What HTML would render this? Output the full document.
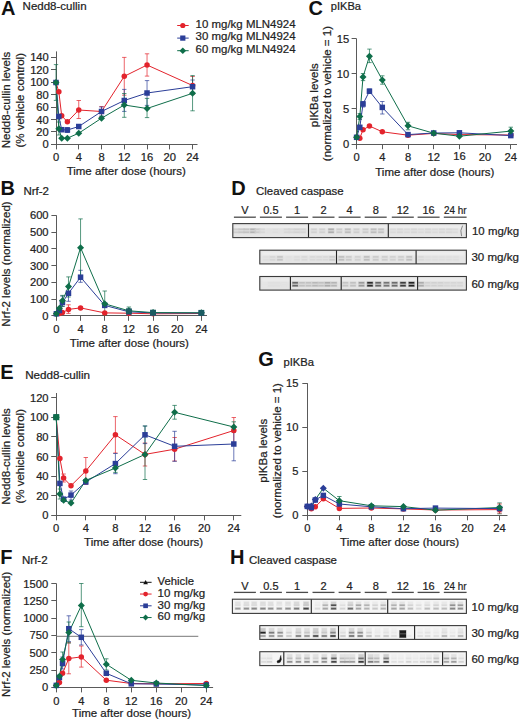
<!DOCTYPE html>
<html><head><meta charset="utf-8"><title>Figure</title>
<style>
html,body{margin:0;padding:0;background:#fff;}
body{width:520px;height:721px;overflow:hidden;}
svg{display:block;font-family:"Liberation Sans",sans-serif;}
text{stroke:#222;stroke-width:0.22px;}
text[font-weight]{stroke:none;}
</style></head><body>
<svg width="520" height="721" viewBox="0 0 520 721" fill="#222222">
<defs><filter id="bl" x="-20%" y="-50%" width="140%" height="200%"><feGaussianBlur stdDeviation="0.8"/></filter><filter id="bl2" x="-5%" y="-100%" width="110%" height="300%"><feGaussianBlur stdDeviation="1"/></filter></defs>
<rect x="0" y="0" width="520" height="721" fill="#fff"/>
<text x="1" y="14.6" font-size="20" font-weight="bold" fill="#111">A</text>
<text x="22.6" y="10" font-size="11" textLength="64" lengthAdjust="spacingAndGlyphs">Nedd8-cullin</text>
<line x1="56.5" y1="51.4" x2="56.5" y2="144.9" stroke="#5a5a5a" stroke-width="1"/>
<line x1="51" y1="144.5" x2="56.5" y2="144.5" stroke="#5a5a5a" stroke-width="1"/>
<text x="48.8" y="148.41" font-size="11.2" text-anchor="end">0</text>
<line x1="51" y1="131.5" x2="56.5" y2="131.5" stroke="#5a5a5a" stroke-width="1"/>
<text x="48.8" y="135.97" font-size="11.2" text-anchor="end">20</text>
<line x1="51" y1="119.5" x2="56.5" y2="119.5" stroke="#5a5a5a" stroke-width="1"/>
<text x="48.8" y="123.53" font-size="11.2" text-anchor="end">40</text>
<line x1="51" y1="107.5" x2="56.5" y2="107.5" stroke="#5a5a5a" stroke-width="1"/>
<text x="48.8" y="111.09" font-size="11.2" text-anchor="end">60</text>
<line x1="51" y1="94.5" x2="56.5" y2="94.5" stroke="#5a5a5a" stroke-width="1"/>
<text x="48.8" y="98.65" font-size="11.2" text-anchor="end">80</text>
<line x1="51" y1="82.5" x2="56.5" y2="82.5" stroke="#5a5a5a" stroke-width="1"/>
<text x="48.8" y="86.21" font-size="11.2" text-anchor="end">100</text>
<line x1="51" y1="69.5" x2="56.5" y2="69.5" stroke="#5a5a5a" stroke-width="1"/>
<text x="48.8" y="73.77" font-size="11.2" text-anchor="end">120</text>
<line x1="51" y1="57.5" x2="56.5" y2="57.5" stroke="#5a5a5a" stroke-width="1"/>
<text x="48.8" y="61.33" font-size="11.2" text-anchor="end">140</text>
<line x1="56" y1="144.5" x2="197.5" y2="144.5" stroke="#5a5a5a" stroke-width="1"/>
<line x1="56.5" y1="144.5" x2="56.5" y2="149.4" stroke="#5a5a5a" stroke-width="1"/>
<text x="56" y="161.01" font-size="11.2" text-anchor="middle">0</text>
<line x1="78.5" y1="144.5" x2="78.5" y2="149.4" stroke="#5a5a5a" stroke-width="1"/>
<text x="78.76" y="161.01" font-size="11.2" text-anchor="middle">4</text>
<line x1="101.5" y1="144.5" x2="101.5" y2="149.4" stroke="#5a5a5a" stroke-width="1"/>
<text x="101.52" y="161.01" font-size="11.2" text-anchor="middle">8</text>
<line x1="124.5" y1="144.5" x2="124.5" y2="149.4" stroke="#5a5a5a" stroke-width="1"/>
<text x="124.28" y="161.01" font-size="11.2" text-anchor="middle">12</text>
<line x1="147.5" y1="144.5" x2="147.5" y2="149.4" stroke="#5a5a5a" stroke-width="1"/>
<text x="147.04" y="161.01" font-size="11.2" text-anchor="middle">16</text>
<line x1="169.5" y1="144.5" x2="169.5" y2="149.4" stroke="#5a5a5a" stroke-width="1"/>
<text x="169.8" y="161.01" font-size="11.2" text-anchor="middle">20</text>
<line x1="192.5" y1="144.5" x2="192.5" y2="149.4" stroke="#5a5a5a" stroke-width="1"/>
<text x="192.56" y="161.01" font-size="11.2" text-anchor="middle">24</text>
<text x="126.2" y="175.16" font-size="11.5" text-anchor="middle">Time after dose (hours)</text>
<text x="10.1" y="100" font-size="11.5" text-anchor="middle" transform="rotate(-90 10.1 100)">Nedd8-cullin levels</text>
<text x="23.7" y="100.3" font-size="11.5" text-anchor="middle" transform="rotate(-90 23.7 100.3)">(% vehicle control)</text>
<line x1="177.2" y1="25.5" x2="188.7" y2="25.5" stroke="#e3232c" stroke-width="1"/>
<circle cx="182.8" cy="25.5" r="2.61" fill="#e3232c"/>
<text x="195.6" y="27.8" font-size="11.5" textLength="100" lengthAdjust="spacingAndGlyphs">10 mg/kg MLN4924</text>
<line x1="177.2" y1="38.1" x2="188.7" y2="38.1" stroke="#2b3e98" stroke-width="1"/>
<rect x="180.19" y="35.49" width="5.22" height="5.22" fill="#2b3e98"/>
<text x="195.6" y="40.4" font-size="11.5" textLength="100" lengthAdjust="spacingAndGlyphs">30 mg/kg MLN4924</text>
<line x1="177.2" y1="50.7" x2="188.7" y2="50.7" stroke="#0f6e4a" stroke-width="1"/>
<path d="M182.8 47.38L186.12 50.7L182.8 54.03L179.48 50.7Z" fill="#0f6e4a"/>
<text x="195.6" y="53" font-size="11.5" textLength="100" lengthAdjust="spacingAndGlyphs">60 mg/kg MLN4924</text>
<path d="M78.76 100.5V118.5M76.56 100.5H80.96M76.56 118.5H80.96" fill="none" stroke="#e3232c" stroke-width="1" stroke-opacity="0.7"/>
<path d="M124.28 57.4V95.2M122.08 57.4H126.48M122.08 95.2H126.48" fill="none" stroke="#e3232c" stroke-width="1" stroke-opacity="0.7"/>
<path d="M147.04 53.8V76.1M144.84 53.8H149.24M144.84 76.1H149.24" fill="none" stroke="#e3232c" stroke-width="1" stroke-opacity="0.7"/>
<path d="M192.56 76.5V94.5M190.36 76.5H194.76M190.36 94.5H194.76" fill="none" stroke="#e3232c" stroke-width="1" stroke-opacity="0.7"/>
<path d="M101.52 106.5V116.5M99.32 106.5H103.72M99.32 116.5H103.72" fill="none" stroke="#e3232c" stroke-width="1" stroke-opacity="0.7"/>
<path d="M124.28 89.4V111.4M122.08 89.4H126.48M122.08 111.4H126.48" fill="none" stroke="#2b3e98" stroke-width="1" stroke-opacity="0.7"/>
<path d="M147.04 80.6V105.4M144.84 80.6H149.24M144.84 105.4H149.24" fill="none" stroke="#2b3e98" stroke-width="1" stroke-opacity="0.7"/>
<path d="M192.56 80V93.4M190.36 80H194.76M190.36 93.4H194.76" fill="none" stroke="#2b3e98" stroke-width="1" stroke-opacity="0.7"/>
<path d="M101.52 107V116M99.32 107H103.72M99.32 116H103.72" fill="none" stroke="#2b3e98" stroke-width="1" stroke-opacity="0.7"/>
<path d="M67.38 127.5V132.5M65.18 127.5H69.58M65.18 132.5H69.58" fill="none" stroke="#2b3e98" stroke-width="1" stroke-opacity="0.7"/>
<path d="M56 64.6V100.4M53.8 64.6H58.2M53.8 100.4H58.2" fill="none" stroke="#0f6e4a" stroke-width="1" stroke-opacity="0.7"/>
<path d="M124.28 93.5V117.3M122.08 93.5H126.48M122.08 117.3H126.48" fill="none" stroke="#0f6e4a" stroke-width="1" stroke-opacity="0.7"/>
<path d="M147.04 98.4V117.6M144.84 98.4H149.24M144.84 117.6H149.24" fill="none" stroke="#0f6e4a" stroke-width="1" stroke-opacity="0.7"/>
<path d="M192.56 75.6V110.8M190.36 75.6H194.76M190.36 110.8H194.76" fill="none" stroke="#0f6e4a" stroke-width="1" stroke-opacity="0.7"/>
<path d="M58.84 122V135M56.64 122H61.05M56.64 135H61.05" fill="none" stroke="#0f6e4a" stroke-width="1" stroke-opacity="0.7"/>
<polyline points="56,82.5 58.84,91.8 61.69,115.8 67.38,121.8 78.76,110 101.52,111.5 124.28,76.3 147.04,65 192.56,85.5" fill="none" stroke="#e3232c" stroke-width="1" stroke-linejoin="round"/>
<polyline points="56,82.5 58.84,116.5 61.69,129.7 67.38,130 78.76,126.5 101.52,111.5 124.28,100.5 147.04,93 192.56,86.7" fill="none" stroke="#2b3e98" stroke-width="1" stroke-linejoin="round"/>
<polyline points="56,82.5 58.84,128.8 61.69,138.2 67.38,138.2 78.76,133.2 101.52,118.2 124.28,105 147.04,108.5 192.56,93.3" fill="none" stroke="#0f6e4a" stroke-width="1" stroke-linejoin="round"/>
<circle cx="56" cy="82.5" r="2.75" fill="#e3232c"/>
<circle cx="58.84" cy="91.8" r="2.75" fill="#e3232c"/>
<circle cx="61.69" cy="115.8" r="2.75" fill="#e3232c"/>
<circle cx="67.38" cy="121.8" r="2.75" fill="#e3232c"/>
<circle cx="78.76" cy="110" r="2.75" fill="#e3232c"/>
<circle cx="101.52" cy="111.5" r="2.75" fill="#e3232c"/>
<circle cx="124.28" cy="76.3" r="2.75" fill="#e3232c"/>
<circle cx="147.04" cy="65" r="2.75" fill="#e3232c"/>
<circle cx="192.56" cy="85.5" r="2.75" fill="#e3232c"/>
<rect x="53.25" y="79.75" width="5.5" height="5.5" fill="#2b3e98"/>
<rect x="56.09" y="113.75" width="5.5" height="5.5" fill="#2b3e98"/>
<rect x="58.94" y="126.95" width="5.5" height="5.5" fill="#2b3e98"/>
<rect x="64.63" y="127.25" width="5.5" height="5.5" fill="#2b3e98"/>
<rect x="76.01" y="123.75" width="5.5" height="5.5" fill="#2b3e98"/>
<rect x="98.77" y="108.75" width="5.5" height="5.5" fill="#2b3e98"/>
<rect x="121.53" y="97.75" width="5.5" height="5.5" fill="#2b3e98"/>
<rect x="144.29" y="90.25" width="5.5" height="5.5" fill="#2b3e98"/>
<rect x="189.81" y="83.95" width="5.5" height="5.5" fill="#2b3e98"/>
<path d="M56 79L59.5 82.5L56 86L52.5 82.5Z" fill="#0f6e4a"/>
<path d="M58.84 125.3L62.34 128.8L58.84 132.3L55.34 128.8Z" fill="#0f6e4a"/>
<path d="M61.69 134.7L65.19 138.2L61.69 141.7L58.19 138.2Z" fill="#0f6e4a"/>
<path d="M67.38 134.7L70.88 138.2L67.38 141.7L63.88 138.2Z" fill="#0f6e4a"/>
<path d="M78.76 129.7L82.26 133.2L78.76 136.7L75.26 133.2Z" fill="#0f6e4a"/>
<path d="M101.52 114.7L105.02 118.2L101.52 121.7L98.02 118.2Z" fill="#0f6e4a"/>
<path d="M124.28 101.5L127.78 105L124.28 108.5L120.78 105Z" fill="#0f6e4a"/>
<path d="M147.04 105L150.54 108.5L147.04 112L143.54 108.5Z" fill="#0f6e4a"/>
<path d="M192.56 89.8L196.06 93.3L192.56 96.8L189.06 93.3Z" fill="#0f6e4a"/>
<text x="0.4" y="194.7" font-size="20" font-weight="bold" fill="#111">B</text>
<text x="23.4" y="194.6" font-size="11" textLength="25.6" lengthAdjust="spacingAndGlyphs">Nrf-2</text>
<line x1="56.5" y1="215.3" x2="56.5" y2="316.3" stroke="#5a5a5a" stroke-width="1"/>
<line x1="51.4" y1="315.5" x2="56.5" y2="315.5" stroke="#5a5a5a" stroke-width="1"/>
<text x="48.6" y="319.81" font-size="11.2" text-anchor="end">0</text>
<line x1="51.4" y1="299.5" x2="56.5" y2="299.5" stroke="#5a5a5a" stroke-width="1"/>
<text x="48.6" y="303.06" font-size="11.2" text-anchor="end">100</text>
<line x1="51.4" y1="282.5" x2="56.5" y2="282.5" stroke="#5a5a5a" stroke-width="1"/>
<text x="48.6" y="286.31" font-size="11.2" text-anchor="end">200</text>
<line x1="51.4" y1="265.5" x2="56.5" y2="265.5" stroke="#5a5a5a" stroke-width="1"/>
<text x="48.6" y="269.56" font-size="11.2" text-anchor="end">300</text>
<line x1="51.4" y1="248.5" x2="56.5" y2="248.5" stroke="#5a5a5a" stroke-width="1"/>
<text x="48.6" y="252.81" font-size="11.2" text-anchor="end">400</text>
<line x1="51.4" y1="232.5" x2="56.5" y2="232.5" stroke="#5a5a5a" stroke-width="1"/>
<text x="48.6" y="236.06" font-size="11.2" text-anchor="end">500</text>
<line x1="51.4" y1="215.5" x2="56.5" y2="215.5" stroke="#5a5a5a" stroke-width="1"/>
<text x="48.6" y="219.31" font-size="11.2" text-anchor="end">600</text>
<line x1="56" y1="315.5" x2="207" y2="315.5" stroke="#5a5a5a" stroke-width="1"/>
<line x1="56.5" y1="315.5" x2="56.5" y2="320.8" stroke="#5a5a5a" stroke-width="1"/>
<text x="56.4" y="333.01" font-size="11.2" text-anchor="middle">0</text>
<line x1="80.5" y1="315.5" x2="80.5" y2="320.8" stroke="#5a5a5a" stroke-width="1"/>
<text x="80.56" y="333.01" font-size="11.2" text-anchor="middle">4</text>
<line x1="104.5" y1="315.5" x2="104.5" y2="320.8" stroke="#5a5a5a" stroke-width="1"/>
<text x="104.72" y="333.01" font-size="11.2" text-anchor="middle">8</text>
<line x1="128.5" y1="315.5" x2="128.5" y2="320.8" stroke="#5a5a5a" stroke-width="1"/>
<text x="128.88" y="333.01" font-size="11.2" text-anchor="middle">12</text>
<line x1="153.5" y1="315.5" x2="153.5" y2="320.8" stroke="#5a5a5a" stroke-width="1"/>
<text x="153.04" y="333.01" font-size="11.2" text-anchor="middle">16</text>
<line x1="177.5" y1="315.5" x2="177.5" y2="320.8" stroke="#5a5a5a" stroke-width="1"/>
<text x="177.2" y="333.01" font-size="11.2" text-anchor="middle">20</text>
<line x1="201.5" y1="315.5" x2="201.5" y2="320.8" stroke="#5a5a5a" stroke-width="1"/>
<text x="201.36" y="333.01" font-size="11.2" text-anchor="middle">24</text>
<text x="129.4" y="346.81" font-size="11.5" text-anchor="middle">Time after dose (hours)</text>
<text x="10.1" y="264" font-size="11.5" text-anchor="middle" transform="rotate(-90 10.1 264)">Nrf-2 levels (normalized)</text>
<path d="M68.48 304.8V313.4M66.28 304.8H70.68M66.28 313.4H70.68" fill="none" stroke="#e3232c" stroke-width="1" stroke-opacity="0.7"/>
<path d="M80.56 270.3V282.3M78.36 270.3H82.76M78.36 282.3H82.76" fill="none" stroke="#2b3e98" stroke-width="1" stroke-opacity="0.7"/>
<path d="M68.48 287V301.3M66.28 287H70.68M66.28 301.3H70.68" fill="none" stroke="#2b3e98" stroke-width="1" stroke-opacity="0.7"/>
<path d="M62.44 296.1V306.5M60.24 296.1H64.64M60.24 306.5H64.64" fill="none" stroke="#2b3e98" stroke-width="1" stroke-opacity="0.7"/>
<path d="M80.56 218.9V276.5M78.36 218.9H82.76M78.36 276.5H82.76" fill="none" stroke="#0f6e4a" stroke-width="1" stroke-opacity="0.7"/>
<path d="M68.48 276.9V297M66.28 276.9H70.68M66.28 297H70.68" fill="none" stroke="#0f6e4a" stroke-width="1" stroke-opacity="0.7"/>
<path d="M62.44 295.4V306.2M60.24 295.4H64.64M60.24 306.2H64.64" fill="none" stroke="#0f6e4a" stroke-width="1" stroke-opacity="0.7"/>
<path d="M104.72 291V315.5M102.52 291H106.92M102.52 315.5H106.92" fill="none" stroke="#0f6e4a" stroke-width="1" stroke-opacity="0.7"/>
<path d="M128.88 307V314.5M126.68 307H131.08M126.68 314.5H131.08" fill="none" stroke="#0f6e4a" stroke-width="1" stroke-opacity="0.7"/>
<polyline points="56.4,313.8 59.42,313.6 62.44,312.6 68.48,309.4 80.56,307.9 104.72,312.9 128.88,313.2 153.04,313.8 201.36,313.5" fill="none" stroke="#e3232c" stroke-width="1" stroke-linejoin="round"/>
<polyline points="56.4,313.8 59.42,310.5 62.44,302.5 68.48,293.3 80.56,277.2 104.72,305.4 128.88,311.8 153.04,312.9 201.36,313" fill="none" stroke="#2b3e98" stroke-width="1" stroke-linejoin="round"/>
<polyline points="56.4,313.8 59.42,308.3 62.44,300.8 68.48,286.6 80.56,247.7 104.72,303.8 128.88,310.8 153.04,312.6 201.36,312.8" fill="none" stroke="#0f6e4a" stroke-width="1" stroke-linejoin="round"/>
<circle cx="56.4" cy="313.8" r="2.75" fill="#e3232c"/>
<circle cx="59.42" cy="313.6" r="2.75" fill="#e3232c"/>
<circle cx="62.44" cy="312.6" r="2.75" fill="#e3232c"/>
<circle cx="68.48" cy="309.4" r="2.75" fill="#e3232c"/>
<circle cx="80.56" cy="307.9" r="2.75" fill="#e3232c"/>
<circle cx="104.72" cy="312.9" r="2.75" fill="#e3232c"/>
<circle cx="128.88" cy="313.2" r="2.75" fill="#e3232c"/>
<circle cx="153.04" cy="313.8" r="2.75" fill="#e3232c"/>
<circle cx="201.36" cy="313.5" r="2.75" fill="#e3232c"/>
<rect x="53.65" y="311.05" width="5.5" height="5.5" fill="#2b3e98"/>
<rect x="56.67" y="307.75" width="5.5" height="5.5" fill="#2b3e98"/>
<rect x="59.69" y="299.75" width="5.5" height="5.5" fill="#2b3e98"/>
<rect x="65.73" y="290.55" width="5.5" height="5.5" fill="#2b3e98"/>
<rect x="77.81" y="274.45" width="5.5" height="5.5" fill="#2b3e98"/>
<rect x="101.97" y="302.65" width="5.5" height="5.5" fill="#2b3e98"/>
<rect x="126.13" y="309.05" width="5.5" height="5.5" fill="#2b3e98"/>
<rect x="150.29" y="310.15" width="5.5" height="5.5" fill="#2b3e98"/>
<rect x="198.61" y="310.25" width="5.5" height="5.5" fill="#2b3e98"/>
<path d="M56.4 310.3L59.9 313.8L56.4 317.3L52.9 313.8Z" fill="#0f6e4a"/>
<path d="M59.42 304.8L62.92 308.3L59.42 311.8L55.92 308.3Z" fill="#0f6e4a"/>
<path d="M62.44 297.3L65.94 300.8L62.44 304.3L58.94 300.8Z" fill="#0f6e4a"/>
<path d="M68.48 283.1L71.98 286.6L68.48 290.1L64.98 286.6Z" fill="#0f6e4a"/>
<path d="M80.56 244.2L84.06 247.7L80.56 251.2L77.06 247.7Z" fill="#0f6e4a"/>
<path d="M104.72 300.3L108.22 303.8L104.72 307.3L101.22 303.8Z" fill="#0f6e4a"/>
<path d="M128.88 307.3L132.38 310.8L128.88 314.3L125.38 310.8Z" fill="#0f6e4a"/>
<path d="M153.04 309.1L156.54 312.6L153.04 316.1L149.54 312.6Z" fill="#0f6e4a"/>
<path d="M201.36 309.3L204.86 312.8L201.36 316.3L197.86 312.8Z" fill="#0f6e4a"/>
<rect x="125.99" y="308.31" width="5.78" height="5.78" fill="#1b5c62"/>
<rect x="150.15" y="309.71" width="5.78" height="5.78" fill="#1b5c62"/>
<rect x="198.47" y="309.91" width="5.78" height="5.78" fill="#1b5c62"/>
<text x="308.6" y="14.9" font-size="20" font-weight="bold" fill="#111">C</text>
<text x="330.8" y="10.2" font-size="11" textLength="30.2" lengthAdjust="spacingAndGlyphs">pIKBa</text>
<line x1="356.5" y1="38.6" x2="356.5" y2="144.7" stroke="#5a5a5a" stroke-width="1"/>
<line x1="351.6" y1="144.5" x2="356.5" y2="144.5" stroke="#5a5a5a" stroke-width="1"/>
<text x="349.2" y="148.21" font-size="11.2" text-anchor="end">0</text>
<line x1="351.6" y1="108.5" x2="356.5" y2="108.5" stroke="#5a5a5a" stroke-width="1"/>
<text x="349.2" y="113.01" font-size="11.2" text-anchor="end">5</text>
<line x1="351.6" y1="73.5" x2="356.5" y2="73.5" stroke="#5a5a5a" stroke-width="1"/>
<text x="349.2" y="77.81" font-size="11.2" text-anchor="end">10</text>
<line x1="351.6" y1="38.5" x2="356.5" y2="38.5" stroke="#5a5a5a" stroke-width="1"/>
<text x="349.2" y="42.61" font-size="11.2" text-anchor="end">15</text>
<line x1="356" y1="144.5" x2="517" y2="144.5" stroke="#5a5a5a" stroke-width="1"/>
<line x1="356.5" y1="144.5" x2="356.5" y2="149.2" stroke="#5a5a5a" stroke-width="1"/>
<text x="356.6" y="161.01" font-size="11.2" text-anchor="middle">0</text>
<line x1="382.5" y1="144.5" x2="382.5" y2="149.2" stroke="#5a5a5a" stroke-width="1"/>
<text x="382.3" y="161.01" font-size="11.2" text-anchor="middle">4</text>
<line x1="408.5" y1="144.5" x2="408.5" y2="149.2" stroke="#5a5a5a" stroke-width="1"/>
<text x="408" y="161.01" font-size="11.2" text-anchor="middle">8</text>
<line x1="433.5" y1="144.5" x2="433.5" y2="149.2" stroke="#5a5a5a" stroke-width="1"/>
<text x="433.7" y="161.01" font-size="11.2" text-anchor="middle">12</text>
<line x1="459.5" y1="144.5" x2="459.5" y2="149.2" stroke="#5a5a5a" stroke-width="1"/>
<text x="459.4" y="159.81" font-size="11.2" text-anchor="middle">16</text>
<line x1="485.5" y1="144.5" x2="485.5" y2="149.2" stroke="#5a5a5a" stroke-width="1"/>
<text x="485.1" y="161.01" font-size="11.2" text-anchor="middle">20</text>
<line x1="510.5" y1="144.5" x2="510.5" y2="149.2" stroke="#5a5a5a" stroke-width="1"/>
<text x="510.8" y="161.01" font-size="11.2" text-anchor="middle">24</text>
<text x="434.8" y="176.01" font-size="11.5" text-anchor="middle">Time after dose (hours)</text>
<text x="317.8" y="95.2" font-size="11.5" text-anchor="middle" transform="rotate(-90 317.8 95.2)">pIKBa levels</text>
<text x="331.4" y="93.6" font-size="11.5" text-anchor="middle" transform="rotate(-90 331.4 93.6)">(normalized to vehicle = 1)</text>
<path d="M382.3 101.5V114M380.1 101.5H384.5M380.1 114H384.5" fill="none" stroke="#2b3e98" stroke-width="1" stroke-opacity="0.7"/>
<path d="M369.45 89V93.5M367.25 89H371.65M367.25 93.5H371.65" fill="none" stroke="#2b3e98" stroke-width="1" stroke-opacity="0.7"/>
<path d="M363.03 101.5V107M360.83 101.5H365.23M360.83 107H365.23" fill="none" stroke="#2b3e98" stroke-width="1" stroke-opacity="0.7"/>
<path d="M369.45 49.1V62.6M367.25 49.1H371.65M367.25 62.6H371.65" fill="none" stroke="#0f6e4a" stroke-width="1" stroke-opacity="0.7"/>
<path d="M363.03 73.5V80.6M360.83 73.5H365.23M360.83 80.6H365.23" fill="none" stroke="#0f6e4a" stroke-width="1" stroke-opacity="0.7"/>
<path d="M382.3 75.8V84.2M380.1 75.8H384.5M380.1 84.2H384.5" fill="none" stroke="#0f6e4a" stroke-width="1" stroke-opacity="0.7"/>
<path d="M408 122.3V129.8M405.8 122.3H410.2M405.8 129.8H410.2" fill="none" stroke="#0f6e4a" stroke-width="1" stroke-opacity="0.7"/>
<path d="M510.8 127.2V134.4M508.6 127.2H513M508.6 134.4H513" fill="none" stroke="#0f6e4a" stroke-width="1" stroke-opacity="0.7"/>
<path d="M359.81 113.5V119.5M357.61 113.5H362.01M357.61 119.5H362.01" fill="none" stroke="#0f6e4a" stroke-width="1" stroke-opacity="0.7"/>
<polyline points="356.6,137.3 359.81,138.2 363.03,129.8 369.45,126 382.3,131.8 408,135.2 433.7,133.4 459.4,134.6 510.8,135" fill="none" stroke="#e3232c" stroke-width="1" stroke-linejoin="round"/>
<polyline points="356.6,137.3 359.81,127.3 363.03,104 369.45,91.2 382.3,107.4 408,134.6 433.7,133 459.4,132.8 510.8,135.6" fill="none" stroke="#2b3e98" stroke-width="1" stroke-linejoin="round"/>
<polyline points="356.6,137.3 359.81,116.5 363.03,76.9 369.45,56.3 382.3,79.9 408,125.8 433.7,133.2 459.4,136.2 510.8,131.1" fill="none" stroke="#0f6e4a" stroke-width="1" stroke-linejoin="round"/>
<circle cx="356.6" cy="137.3" r="2.75" fill="#e3232c"/>
<circle cx="359.81" cy="138.2" r="2.75" fill="#e3232c"/>
<circle cx="363.03" cy="129.8" r="2.75" fill="#e3232c"/>
<circle cx="369.45" cy="126" r="2.75" fill="#e3232c"/>
<circle cx="382.3" cy="131.8" r="2.75" fill="#e3232c"/>
<circle cx="408" cy="135.2" r="2.75" fill="#e3232c"/>
<circle cx="433.7" cy="133.4" r="2.75" fill="#e3232c"/>
<circle cx="459.4" cy="134.6" r="2.75" fill="#e3232c"/>
<circle cx="510.8" cy="135" r="2.75" fill="#e3232c"/>
<rect x="353.85" y="134.55" width="5.5" height="5.5" fill="#2b3e98"/>
<rect x="357.06" y="124.55" width="5.5" height="5.5" fill="#2b3e98"/>
<rect x="360.28" y="101.25" width="5.5" height="5.5" fill="#2b3e98"/>
<rect x="366.7" y="88.45" width="5.5" height="5.5" fill="#2b3e98"/>
<rect x="379.55" y="104.65" width="5.5" height="5.5" fill="#2b3e98"/>
<rect x="405.25" y="131.85" width="5.5" height="5.5" fill="#2b3e98"/>
<rect x="430.95" y="130.25" width="5.5" height="5.5" fill="#2b3e98"/>
<rect x="456.65" y="130.05" width="5.5" height="5.5" fill="#2b3e98"/>
<rect x="508.05" y="132.85" width="5.5" height="5.5" fill="#2b3e98"/>
<path d="M356.6 133.8L360.1 137.3L356.6 140.8L353.1 137.3Z" fill="#0f6e4a"/>
<path d="M359.81 113L363.31 116.5L359.81 120L356.31 116.5Z" fill="#0f6e4a"/>
<path d="M363.03 73.4L366.53 76.9L363.03 80.4L359.53 76.9Z" fill="#0f6e4a"/>
<path d="M369.45 52.8L372.95 56.3L369.45 59.8L365.95 56.3Z" fill="#0f6e4a"/>
<path d="M382.3 76.4L385.8 79.9L382.3 83.4L378.8 79.9Z" fill="#0f6e4a"/>
<path d="M408 122.3L411.5 125.8L408 129.3L404.5 125.8Z" fill="#0f6e4a"/>
<path d="M433.7 129.7L437.2 133.2L433.7 136.7L430.2 133.2Z" fill="#0f6e4a"/>
<path d="M459.4 132.7L462.9 136.2L459.4 139.7L455.9 136.2Z" fill="#0f6e4a"/>
<path d="M510.8 127.6L514.3 131.1L510.8 134.6L507.3 131.1Z" fill="#0f6e4a"/>
<text x="231.2" y="195.1" font-size="20" font-weight="bold" fill="#111">D</text>
<text x="256" y="195.1" font-size="11" textLength="87.6" lengthAdjust="spacingAndGlyphs">Cleaved caspase</text>
<line x1="233.9" y1="217.2" x2="255.9" y2="217.2" stroke="#4a4a4a" stroke-width="1.3"/>
<text x="244.9" y="213.8" font-size="11" text-anchor="middle">V</text>
<line x1="259.9" y1="217.2" x2="281.9" y2="217.2" stroke="#4a4a4a" stroke-width="1.3"/>
<text x="270.9" y="213.8" font-size="11" text-anchor="middle">0.5</text>
<line x1="286.1" y1="217.2" x2="308.1" y2="217.2" stroke="#4a4a4a" stroke-width="1.3"/>
<text x="297.1" y="213.8" font-size="11" text-anchor="middle">1</text>
<line x1="312.5" y1="217.2" x2="334.5" y2="217.2" stroke="#4a4a4a" stroke-width="1.3"/>
<text x="323.5" y="213.8" font-size="11" text-anchor="middle">2</text>
<line x1="338.6" y1="217.2" x2="360.6" y2="217.2" stroke="#4a4a4a" stroke-width="1.3"/>
<text x="349.6" y="213.8" font-size="11" text-anchor="middle">4</text>
<line x1="364.7" y1="217.2" x2="386.7" y2="217.2" stroke="#4a4a4a" stroke-width="1.3"/>
<text x="375.7" y="213.8" font-size="11" text-anchor="middle">8</text>
<line x1="391.8" y1="217.2" x2="413.8" y2="217.2" stroke="#4a4a4a" stroke-width="1.3"/>
<text x="402.8" y="213.8" font-size="11" text-anchor="middle">12</text>
<line x1="417.6" y1="217.2" x2="439.6" y2="217.2" stroke="#4a4a4a" stroke-width="1.3"/>
<text x="428.6" y="213.8" font-size="11" text-anchor="middle">16</text>
<line x1="443.8" y1="217.2" x2="466.6" y2="217.2" stroke="#4a4a4a" stroke-width="1.3"/>
<text x="455.2" y="213.8" font-size="11" text-anchor="middle" textLength="22.6" lengthAdjust="spacingAndGlyphs">24 hr</text>
<rect x="232.8" y="223.6" width="233.6" height="14" fill="#e5e5e5"/>
<rect x="234.8" y="225.1" width="229.6" height="3.5" fill="#ededed" filter="url(#bl2)"/>
<g stroke-width="1.1" stroke-opacity="0.4">
<rect x="233.5" y="228.6" width="5.4" height="1.5" fill="#cfcfcf" stroke="#cfcfcf"/>
<rect x="233.5" y="231.5" width="5.4" height="1.5" fill="#cfcfcf" stroke="#cfcfcf"/>
<rect x="238.8" y="228.6" width="5.4" height="1.5" fill="#c8c8c8" stroke="#c8c8c8"/>
<rect x="238.8" y="231.5" width="5.4" height="1.5" fill="#c8c8c8" stroke="#c8c8c8"/>
<rect x="243.8" y="228.6" width="5.4" height="1.5" fill="#c4c4c4" stroke="#c4c4c4"/>
<rect x="243.8" y="231.5" width="5.4" height="1.5" fill="#c4c4c4" stroke="#c4c4c4"/>
<rect x="250.3" y="228.6" width="5.4" height="1.5" fill="#b4b4b4" stroke="#b4b4b4"/>
<rect x="250.3" y="231.5" width="5.4" height="1.5" fill="#b4b4b4" stroke="#b4b4b4"/>
<rect x="254.8" y="228.6" width="5.4" height="1.5" fill="#cccccc" stroke="#cccccc"/>
<rect x="254.8" y="231.5" width="5.4" height="1.5" fill="#cccccc" stroke="#cccccc"/>
<rect x="259.3" y="228.6" width="5.4" height="1.5" fill="#d8d8d8" stroke="#d8d8d8"/>
<rect x="259.3" y="231.5" width="5.4" height="1.5" fill="#d8d8d8" stroke="#d8d8d8"/>
<rect x="266.5" y="228.6" width="5.4" height="1.5" fill="#e2e2e2" stroke="#e2e2e2"/>
<rect x="266.5" y="231.5" width="5.4" height="1.5" fill="#e2e2e2" stroke="#e2e2e2"/>
<rect x="272.7" y="228.6" width="5.4" height="1.5" fill="#dedede" stroke="#dedede"/>
<rect x="272.7" y="231.5" width="5.4" height="1.5" fill="#dedede" stroke="#dedede"/>
<rect x="278.8" y="228.6" width="5.4" height="1.5" fill="#e2e2e2" stroke="#e2e2e2"/>
<rect x="278.8" y="231.5" width="5.4" height="1.5" fill="#e2e2e2" stroke="#e2e2e2"/>
<rect x="284.3" y="228.6" width="5.4" height="1.5" fill="#d8d8d8" stroke="#d8d8d8"/>
<rect x="284.3" y="231.5" width="5.4" height="1.5" fill="#d8d8d8" stroke="#d8d8d8"/>
<rect x="288.8" y="228.6" width="5.4" height="1.5" fill="#d8d8d8" stroke="#d8d8d8"/>
<rect x="288.8" y="231.5" width="5.4" height="1.5" fill="#d8d8d8" stroke="#d8d8d8"/>
<rect x="294.3" y="228.6" width="5.4" height="1.5" fill="#d3d3d3" stroke="#d3d3d3"/>
<rect x="294.3" y="231.5" width="5.4" height="1.5" fill="#d3d3d3" stroke="#d3d3d3"/>
<rect x="300.3" y="228.6" width="5.4" height="1.5" fill="#d5d5d5" stroke="#d5d5d5"/>
<rect x="300.3" y="231.5" width="5.4" height="1.5" fill="#d5d5d5" stroke="#d5d5d5"/>
<rect x="311.3" y="228.6" width="5.4" height="1.5" fill="#d2d2d2" stroke="#d2d2d2"/>
<rect x="311.3" y="231.5" width="5.4" height="1.5" fill="#d2d2d2" stroke="#d2d2d2"/>
<rect x="319.5" y="228.6" width="5.4" height="1.5" fill="#d2d2d2" stroke="#d2d2d2"/>
<rect x="319.5" y="231.5" width="5.4" height="1.5" fill="#d2d2d2" stroke="#d2d2d2"/>
<rect x="328.4" y="228.6" width="5.4" height="1.5" fill="#afafaf" stroke="#afafaf"/>
<rect x="328.4" y="231.5" width="5.4" height="1.5" fill="#afafaf" stroke="#afafaf"/>
<rect x="336.6" y="228.6" width="5.4" height="1.5" fill="#cccccc" stroke="#cccccc"/>
<rect x="336.6" y="231.5" width="5.4" height="1.5" fill="#cccccc" stroke="#cccccc"/>
<rect x="345.1" y="228.6" width="5.4" height="1.5" fill="#bfbfbf" stroke="#bfbfbf"/>
<rect x="345.1" y="231.5" width="5.4" height="1.5" fill="#bfbfbf" stroke="#bfbfbf"/>
<rect x="353.8" y="228.6" width="5.4" height="1.5" fill="#cfcfcf" stroke="#cfcfcf"/>
<rect x="353.8" y="231.5" width="5.4" height="1.5" fill="#cfcfcf" stroke="#cfcfcf"/>
<rect x="362.8" y="228.6" width="5.4" height="1.5" fill="#cccccc" stroke="#cccccc"/>
<rect x="362.8" y="231.5" width="5.4" height="1.5" fill="#cccccc" stroke="#cccccc"/>
<rect x="370.9" y="228.6" width="5.4" height="1.5" fill="#bfbfbf" stroke="#bfbfbf"/>
<rect x="370.9" y="231.5" width="5.4" height="1.5" fill="#bfbfbf" stroke="#bfbfbf"/>
<rect x="378.3" y="228.6" width="5.4" height="1.5" fill="#c4c4c4" stroke="#c4c4c4"/>
<rect x="378.3" y="231.5" width="5.4" height="1.5" fill="#c4c4c4" stroke="#c4c4c4"/>
<rect x="390.3" y="228.6" width="5.4" height="1.5" fill="#dbdbdb" stroke="#dbdbdb"/>
<rect x="390.3" y="231.5" width="5.4" height="1.5" fill="#dbdbdb" stroke="#dbdbdb"/>
<rect x="397.3" y="228.6" width="5.4" height="1.5" fill="#d8d8d8" stroke="#d8d8d8"/>
<rect x="397.3" y="231.5" width="5.4" height="1.5" fill="#d8d8d8" stroke="#d8d8d8"/>
<rect x="404.3" y="228.6" width="5.4" height="1.5" fill="#dbdbdb" stroke="#dbdbdb"/>
<rect x="404.3" y="231.5" width="5.4" height="1.5" fill="#dbdbdb" stroke="#dbdbdb"/>
<rect x="411.3" y="228.6" width="5.4" height="1.5" fill="#d8d8d8" stroke="#d8d8d8"/>
<rect x="411.3" y="231.5" width="5.4" height="1.5" fill="#d8d8d8" stroke="#d8d8d8"/>
<rect x="418.3" y="228.6" width="5.4" height="1.5" fill="#dbdbdb" stroke="#dbdbdb"/>
<rect x="418.3" y="231.5" width="5.4" height="1.5" fill="#dbdbdb" stroke="#dbdbdb"/>
<rect x="425.3" y="228.6" width="5.4" height="1.5" fill="#d8d8d8" stroke="#d8d8d8"/>
<rect x="425.3" y="231.5" width="5.4" height="1.5" fill="#d8d8d8" stroke="#d8d8d8"/>
<rect x="432.3" y="228.6" width="5.4" height="1.5" fill="#dbdbdb" stroke="#dbdbdb"/>
<rect x="432.3" y="231.5" width="5.4" height="1.5" fill="#dbdbdb" stroke="#dbdbdb"/>
<rect x="439.3" y="228.6" width="5.4" height="1.5" fill="#d8d8d8" stroke="#d8d8d8"/>
<rect x="439.3" y="231.5" width="5.4" height="1.5" fill="#d8d8d8" stroke="#d8d8d8"/>
<rect x="446.3" y="228.6" width="5.4" height="1.5" fill="#d8d8d8" stroke="#d8d8d8"/>
<rect x="446.3" y="231.5" width="5.4" height="1.5" fill="#d8d8d8" stroke="#d8d8d8"/>
<rect x="452.3" y="228.6" width="5.4" height="1.5" fill="#dbdbdb" stroke="#dbdbdb"/>
<rect x="452.3" y="231.5" width="5.4" height="1.5" fill="#dbdbdb" stroke="#dbdbdb"/>
</g>
<line x1="308.5" y1="223.6" x2="308.5" y2="237.6" stroke="#222" stroke-width="1.1"/>
<line x1="388.3" y1="223.6" x2="388.3" y2="237.6" stroke="#222" stroke-width="1.1"/>
<rect x="232.8" y="223.6" width="233.6" height="14" fill="none" stroke="#3a3a3a" stroke-width="1.1"/>
<path d="M462.6 225.6 Q459.6 230.5 461.6 236.2" fill="none" stroke="#888" stroke-width="1.0"/>
<text x="472" y="234.6" font-size="11" textLength="47" lengthAdjust="spacingAndGlyphs">10 mg/kg</text>
<rect x="259.8" y="250.2" width="206.6" height="13.7" fill="#e5e5e5"/>
<rect x="261.8" y="251.7" width="202.6" height="3.5" fill="#efefef" filter="url(#bl2)"/>
<g stroke-width="1.1" stroke-opacity="0.4">
<rect x="263.3" y="256.1" width="5.4" height="1.5" fill="#dfdfdf" stroke="#dfdfdf"/>
<rect x="263.3" y="259" width="5.4" height="1.5" fill="#dfdfdf" stroke="#dfdfdf"/>
<rect x="269.8" y="256.1" width="5.4" height="1.5" fill="#d6d6d6" stroke="#d6d6d6"/>
<rect x="269.8" y="259" width="5.4" height="1.5" fill="#d6d6d6" stroke="#d6d6d6"/>
<rect x="277.2" y="256.1" width="5.4" height="1.5" fill="#c6c6c6" stroke="#c6c6c6"/>
<rect x="277.2" y="259" width="5.4" height="1.5" fill="#c6c6c6" stroke="#c6c6c6"/>
<rect x="286.2" y="256.1" width="5.4" height="1.5" fill="#e2e2e2" stroke="#e2e2e2"/>
<rect x="286.2" y="259" width="5.4" height="1.5" fill="#e2e2e2" stroke="#e2e2e2"/>
<rect x="294.3" y="256.1" width="5.4" height="1.5" fill="#dcdcdc" stroke="#dcdcdc"/>
<rect x="294.3" y="259" width="5.4" height="1.5" fill="#dcdcdc" stroke="#dcdcdc"/>
<rect x="301.7" y="256.1" width="5.4" height="1.5" fill="#d9d9d9" stroke="#d9d9d9"/>
<rect x="301.7" y="259" width="5.4" height="1.5" fill="#d9d9d9" stroke="#d9d9d9"/>
<rect x="309.9" y="256.1" width="5.4" height="1.5" fill="#d9d9d9" stroke="#d9d9d9"/>
<rect x="309.9" y="259" width="5.4" height="1.5" fill="#d9d9d9" stroke="#d9d9d9"/>
<rect x="316.4" y="256.1" width="5.4" height="1.5" fill="#d9d9d9" stroke="#d9d9d9"/>
<rect x="316.4" y="259" width="5.4" height="1.5" fill="#d9d9d9" stroke="#d9d9d9"/>
<rect x="322.9" y="256.1" width="5.4" height="1.5" fill="#d9d9d9" stroke="#d9d9d9"/>
<rect x="322.9" y="259" width="5.4" height="1.5" fill="#d9d9d9" stroke="#d9d9d9"/>
<rect x="329.5" y="256.1" width="5.4" height="1.5" fill="#cecece" stroke="#cecece"/>
<rect x="329.5" y="259" width="5.4" height="1.5" fill="#cecece" stroke="#cecece"/>
<rect x="338.7" y="256.1" width="5.4" height="1.5" fill="#bfbfbf" stroke="#bfbfbf"/>
<rect x="338.7" y="259" width="5.4" height="1.5" fill="#bfbfbf" stroke="#bfbfbf"/>
<rect x="346" y="256.1" width="5.4" height="1.5" fill="#cbcbcb" stroke="#cbcbcb"/>
<rect x="346" y="259" width="5.4" height="1.5" fill="#cbcbcb" stroke="#cbcbcb"/>
<rect x="355" y="256.1" width="5.4" height="1.5" fill="#d1d1d1" stroke="#d1d1d1"/>
<rect x="355" y="259" width="5.4" height="1.5" fill="#d1d1d1" stroke="#d1d1d1"/>
<rect x="364" y="256.1" width="5.4" height="1.5" fill="#bfbfbf" stroke="#bfbfbf"/>
<rect x="364" y="259" width="5.4" height="1.5" fill="#bfbfbf" stroke="#bfbfbf"/>
<rect x="373" y="256.1" width="5.4" height="1.5" fill="#cbcbcb" stroke="#cbcbcb"/>
<rect x="373" y="259" width="5.4" height="1.5" fill="#cbcbcb" stroke="#cbcbcb"/>
<rect x="382" y="256.1" width="5.4" height="1.5" fill="#cecece" stroke="#cecece"/>
<rect x="382" y="259" width="5.4" height="1.5" fill="#cecece" stroke="#cecece"/>
<rect x="390.1" y="256.1" width="5.4" height="1.5" fill="#d1d1d1" stroke="#d1d1d1"/>
<rect x="390.1" y="259" width="5.4" height="1.5" fill="#d1d1d1" stroke="#d1d1d1"/>
<rect x="398.3" y="256.1" width="5.4" height="1.5" fill="#cecece" stroke="#cecece"/>
<rect x="398.3" y="259" width="5.4" height="1.5" fill="#cecece" stroke="#cecece"/>
<rect x="406.5" y="256.1" width="5.4" height="1.5" fill="#c2c2c2" stroke="#c2c2c2"/>
<rect x="406.5" y="259" width="5.4" height="1.5" fill="#c2c2c2" stroke="#c2c2c2"/>
<rect x="418.3" y="256.1" width="5.4" height="1.5" fill="#d9d9d9" stroke="#d9d9d9"/>
<rect x="418.3" y="259" width="5.4" height="1.5" fill="#d9d9d9" stroke="#d9d9d9"/>
<rect x="425.3" y="256.1" width="5.4" height="1.5" fill="#dfdfdf" stroke="#dfdfdf"/>
<rect x="425.3" y="259" width="5.4" height="1.5" fill="#dfdfdf" stroke="#dfdfdf"/>
<rect x="432.3" y="256.1" width="5.4" height="1.5" fill="#dfdfdf" stroke="#dfdfdf"/>
<rect x="432.3" y="259" width="5.4" height="1.5" fill="#dfdfdf" stroke="#dfdfdf"/>
<rect x="439.3" y="256.1" width="5.4" height="1.5" fill="#dfdfdf" stroke="#dfdfdf"/>
<rect x="439.3" y="259" width="5.4" height="1.5" fill="#dfdfdf" stroke="#dfdfdf"/>
<rect x="446.3" y="256.1" width="5.4" height="1.5" fill="#dfdfdf" stroke="#dfdfdf"/>
<rect x="446.3" y="259" width="5.4" height="1.5" fill="#dfdfdf" stroke="#dfdfdf"/>
<rect x="453.3" y="256.1" width="5.4" height="1.5" fill="#dfdfdf" stroke="#dfdfdf"/>
<rect x="453.3" y="259" width="5.4" height="1.5" fill="#dfdfdf" stroke="#dfdfdf"/>
</g>
<line x1="336.5" y1="250.2" x2="336.5" y2="263.9" stroke="#222" stroke-width="1.1"/>
<line x1="416.1" y1="250.2" x2="416.1" y2="263.9" stroke="#222" stroke-width="1.1"/>
<rect x="259.8" y="250.2" width="206.6" height="13.7" fill="none" stroke="#3a3a3a" stroke-width="1.1"/>
<text x="471.4" y="261.1" font-size="11" textLength="47.6" lengthAdjust="spacingAndGlyphs">30 mg/kg</text>
<rect x="259.8" y="276.5" width="206.6" height="13.6" fill="#e4e4e4"/>
<rect x="261.8" y="278" width="202.6" height="3.5" fill="#ececec" filter="url(#bl2)"/>
<g stroke-width="1.1" stroke-opacity="0.4">
<rect x="262.3" y="282" width="5.4" height="1.5" fill="#e5e5e5" stroke="#e5e5e5"/>
<rect x="262.3" y="284.9" width="5.4" height="1.5" fill="#e5e5e5" stroke="#e5e5e5"/>
<rect x="268.3" y="282" width="5.4" height="1.5" fill="#e0e0e0" stroke="#e0e0e0"/>
<rect x="268.3" y="284.9" width="5.4" height="1.5" fill="#e0e0e0" stroke="#e0e0e0"/>
<rect x="274.3" y="282" width="5.4" height="1.5" fill="#e0e0e0" stroke="#e0e0e0"/>
<rect x="274.3" y="284.9" width="5.4" height="1.5" fill="#e0e0e0" stroke="#e0e0e0"/>
<rect x="281.3" y="282" width="5.4" height="1.5" fill="#e3e3e3" stroke="#e3e3e3"/>
<rect x="281.3" y="284.9" width="5.4" height="1.5" fill="#e3e3e3" stroke="#e3e3e3"/>
<rect x="292.5" y="282" width="5.4" height="1.5" fill="#696969" stroke="#696969"/>
<rect x="292.5" y="284.9" width="5.4" height="1.5" fill="#696969" stroke="#696969"/>
<rect x="299.3" y="282" width="5.4" height="1.5" fill="#c1c1c1" stroke="#c1c1c1"/>
<rect x="299.3" y="284.9" width="5.4" height="1.5" fill="#c1c1c1" stroke="#c1c1c1"/>
<rect x="305.8" y="282" width="5.4" height="1.5" fill="#c1c1c1" stroke="#c1c1c1"/>
<rect x="305.8" y="284.9" width="5.4" height="1.5" fill="#c1c1c1" stroke="#c1c1c1"/>
<rect x="312.3" y="282" width="5.4" height="1.5" fill="#b9b9b9" stroke="#b9b9b9"/>
<rect x="312.3" y="284.9" width="5.4" height="1.5" fill="#b9b9b9" stroke="#b9b9b9"/>
<rect x="318.3" y="282" width="5.4" height="1.5" fill="#c1c1c1" stroke="#c1c1c1"/>
<rect x="318.3" y="284.9" width="5.4" height="1.5" fill="#c1c1c1" stroke="#c1c1c1"/>
<rect x="324.8" y="282" width="5.4" height="1.5" fill="#acacac" stroke="#acacac"/>
<rect x="324.8" y="284.9" width="5.4" height="1.5" fill="#acacac" stroke="#acacac"/>
<rect x="331.3" y="282" width="5.4" height="1.5" fill="#b6b6b6" stroke="#b6b6b6"/>
<rect x="331.3" y="284.9" width="5.4" height="1.5" fill="#b6b6b6" stroke="#b6b6b6"/>
<rect x="342.7" y="282" width="5.4" height="1.5" fill="#c5c5c5" stroke="#c5c5c5"/>
<rect x="342.7" y="284.9" width="5.4" height="1.5" fill="#c5c5c5" stroke="#c5c5c5"/>
<rect x="350.3" y="282" width="5.4" height="1.5" fill="#c1c1c1" stroke="#c1c1c1"/>
<rect x="350.3" y="284.9" width="5.4" height="1.5" fill="#c1c1c1" stroke="#c1c1c1"/>
<rect x="358.8" y="282" width="5.4" height="1.5" fill="#9b9b9b" stroke="#9b9b9b"/>
<rect x="358.8" y="284.9" width="5.4" height="1.5" fill="#9b9b9b" stroke="#9b9b9b"/>
<rect x="367.3" y="282" width="5.4" height="1.5" fill="#2e2e2e" stroke="#2e2e2e"/>
<rect x="367.3" y="284.9" width="5.4" height="1.5" fill="#2e2e2e" stroke="#2e2e2e"/>
<rect x="375.5" y="282" width="5.4" height="1.5" fill="#696969" stroke="#696969"/>
<rect x="375.5" y="284.9" width="5.4" height="1.5" fill="#696969" stroke="#696969"/>
<rect x="383.8" y="282" width="5.4" height="1.5" fill="#777777" stroke="#777777"/>
<rect x="383.8" y="284.9" width="5.4" height="1.5" fill="#777777" stroke="#777777"/>
<rect x="391.9" y="282" width="5.4" height="1.5" fill="#6d6d6d" stroke="#6d6d6d"/>
<rect x="391.9" y="284.9" width="5.4" height="1.5" fill="#6d6d6d" stroke="#6d6d6d"/>
<rect x="400.3" y="282" width="5.4" height="1.5" fill="#3f3f3f" stroke="#3f3f3f"/>
<rect x="400.3" y="284.9" width="5.4" height="1.5" fill="#3f3f3f" stroke="#3f3f3f"/>
<rect x="408.8" y="282" width="5.4" height="1.5" fill="#242424" stroke="#242424"/>
<rect x="408.8" y="284.9" width="5.4" height="1.5" fill="#242424" stroke="#242424"/>
<rect x="418.3" y="282" width="5.4" height="1.5" fill="#acacac" stroke="#acacac"/>
<rect x="418.3" y="284.9" width="5.4" height="1.5" fill="#acacac" stroke="#acacac"/>
<rect x="424.8" y="282" width="5.4" height="1.5" fill="#d2d2d2" stroke="#d2d2d2"/>
<rect x="424.8" y="284.9" width="5.4" height="1.5" fill="#d2d2d2" stroke="#d2d2d2"/>
<rect x="431.3" y="282" width="5.4" height="1.5" fill="#d2d2d2" stroke="#d2d2d2"/>
<rect x="431.3" y="284.9" width="5.4" height="1.5" fill="#d2d2d2" stroke="#d2d2d2"/>
<rect x="437.8" y="282" width="5.4" height="1.5" fill="#d2d2d2" stroke="#d2d2d2"/>
<rect x="437.8" y="284.9" width="5.4" height="1.5" fill="#d2d2d2" stroke="#d2d2d2"/>
<rect x="444.3" y="282" width="5.4" height="1.5" fill="#d6d6d6" stroke="#d6d6d6"/>
<rect x="444.3" y="284.9" width="5.4" height="1.5" fill="#d6d6d6" stroke="#d6d6d6"/>
<rect x="450.8" y="282" width="5.4" height="1.5" fill="#d6d6d6" stroke="#d6d6d6"/>
<rect x="450.8" y="284.9" width="5.4" height="1.5" fill="#d6d6d6" stroke="#d6d6d6"/>
<rect x="457.3" y="282" width="5.4" height="1.5" fill="#d6d6d6" stroke="#d6d6d6"/>
<rect x="457.3" y="284.9" width="5.4" height="1.5" fill="#d6d6d6" stroke="#d6d6d6"/>
</g>
<line x1="290.4" y1="276.5" x2="290.4" y2="290.1" stroke="#222" stroke-width="1.1"/>
<line x1="341.2" y1="276.5" x2="341.2" y2="290.1" stroke="#222" stroke-width="1.1"/>
<line x1="417.6" y1="276.5" x2="417.6" y2="290.1" stroke="#222" stroke-width="1.1"/>
<rect x="259.8" y="276.5" width="206.6" height="13.6" fill="none" stroke="#3a3a3a" stroke-width="1.1"/>
<text x="471.4" y="287.6" font-size="11" textLength="47.6" lengthAdjust="spacingAndGlyphs">60 mg/kg</text>
<text x="0.2" y="379.3" font-size="20" font-weight="bold" fill="#111">E</text>
<text x="25.2" y="379" font-size="11" textLength="64.8" lengthAdjust="spacingAndGlyphs">Nedd8-cullin</text>
<line x1="56.5" y1="393" x2="56.5" y2="515.8" stroke="#5a5a5a" stroke-width="1"/>
<line x1="51.2" y1="515.5" x2="56.5" y2="515.5" stroke="#5a5a5a" stroke-width="1"/>
<text x="48.6" y="519.31" font-size="11.2" text-anchor="end">0</text>
<line x1="51.2" y1="495.5" x2="56.5" y2="495.5" stroke="#5a5a5a" stroke-width="1"/>
<text x="48.6" y="499.71" font-size="11.2" text-anchor="end">20</text>
<line x1="51.2" y1="476.5" x2="56.5" y2="476.5" stroke="#5a5a5a" stroke-width="1"/>
<text x="48.6" y="480.11" font-size="11.2" text-anchor="end">40</text>
<line x1="51.2" y1="456.5" x2="56.5" y2="456.5" stroke="#5a5a5a" stroke-width="1"/>
<text x="48.6" y="460.51" font-size="11.2" text-anchor="end">60</text>
<line x1="51.2" y1="436.5" x2="56.5" y2="436.5" stroke="#5a5a5a" stroke-width="1"/>
<text x="48.6" y="440.91" font-size="11.2" text-anchor="end">80</text>
<line x1="51.2" y1="417.5" x2="56.5" y2="417.5" stroke="#5a5a5a" stroke-width="1"/>
<text x="48.6" y="421.31" font-size="11.2" text-anchor="end">100</text>
<line x1="51.2" y1="397.5" x2="56.5" y2="397.5" stroke="#5a5a5a" stroke-width="1"/>
<text x="48.6" y="401.71" font-size="11.2" text-anchor="end">120</text>
<line x1="56" y1="515.5" x2="241.3" y2="515.5" stroke="#5a5a5a" stroke-width="1"/>
<line x1="56.5" y1="515.5" x2="56.5" y2="520.3" stroke="#5a5a5a" stroke-width="1"/>
<text x="56.2" y="531.91" font-size="11.2" text-anchor="middle">0</text>
<line x1="85.5" y1="515.5" x2="85.5" y2="520.3" stroke="#5a5a5a" stroke-width="1"/>
<text x="85.8" y="531.91" font-size="11.2" text-anchor="middle">4</text>
<line x1="115.5" y1="515.5" x2="115.5" y2="520.3" stroke="#5a5a5a" stroke-width="1"/>
<text x="115.4" y="531.91" font-size="11.2" text-anchor="middle">8</text>
<line x1="145.5" y1="515.5" x2="145.5" y2="520.3" stroke="#5a5a5a" stroke-width="1"/>
<text x="145" y="531.91" font-size="11.2" text-anchor="middle">12</text>
<line x1="174.5" y1="515.5" x2="174.5" y2="520.3" stroke="#5a5a5a" stroke-width="1"/>
<text x="174.6" y="531.91" font-size="11.2" text-anchor="middle">16</text>
<line x1="204.5" y1="515.5" x2="204.5" y2="520.3" stroke="#5a5a5a" stroke-width="1"/>
<text x="204.2" y="531.91" font-size="11.2" text-anchor="middle">20</text>
<line x1="233.5" y1="515.5" x2="233.5" y2="520.3" stroke="#5a5a5a" stroke-width="1"/>
<text x="233.8" y="531.91" font-size="11.2" text-anchor="middle">24</text>
<text x="143.6" y="545.81" font-size="11.5" text-anchor="middle">Time after dose (hours)</text>
<text x="9.8" y="456.5" font-size="11.5" text-anchor="middle" transform="rotate(-90 9.8 456.5)">Nedd8-cullin levels</text>
<text x="23.7" y="456.3" font-size="11.5" text-anchor="middle" transform="rotate(-90 23.7 456.3)">(% vehicle control)</text>
<path d="M85.8 457.5V484.5M83.6 457.5H88M83.6 484.5H88" fill="none" stroke="#e3232c" stroke-width="1" stroke-opacity="0.7"/>
<path d="M115.4 416.6V453M113.2 416.6H117.6M113.2 453H117.6" fill="none" stroke="#e3232c" stroke-width="1" stroke-opacity="0.7"/>
<path d="M145 443V466M142.8 443H147.2M142.8 466H147.2" fill="none" stroke="#e3232c" stroke-width="1" stroke-opacity="0.7"/>
<path d="M174.6 437.5V461M172.4 437.5H176.8M172.4 461H176.8" fill="none" stroke="#e3232c" stroke-width="1" stroke-opacity="0.7"/>
<path d="M233.8 417.5V443.5M231.6 417.5H236M231.6 443.5H236" fill="none" stroke="#e3232c" stroke-width="1" stroke-opacity="0.7"/>
<path d="M63.6 474V482M61.4 474H65.8M61.4 482H65.8" fill="none" stroke="#e3232c" stroke-width="1" stroke-opacity="0.7"/>
<path d="M115.4 453.5V473.7M113.2 453.5H117.6M113.2 473.7H117.6" fill="none" stroke="#2b3e98" stroke-width="1" stroke-opacity="0.7"/>
<path d="M145 426V443.6M142.8 426H147.2M142.8 443.6H147.2" fill="none" stroke="#2b3e98" stroke-width="1" stroke-opacity="0.7"/>
<path d="M174.6 431.3V461.3M172.4 431.3H176.8M172.4 461.3H176.8" fill="none" stroke="#2b3e98" stroke-width="1" stroke-opacity="0.7"/>
<path d="M233.8 427.2V460.8M231.6 427.2H236M231.6 460.8H236" fill="none" stroke="#2b3e98" stroke-width="1" stroke-opacity="0.7"/>
<path d="M71 491V500M68.8 491H73.2M68.8 500H73.2" fill="none" stroke="#2b3e98" stroke-width="1" stroke-opacity="0.7"/>
<path d="M115.4 463.6V472.4M113.2 463.6H117.6M113.2 472.4H117.6" fill="none" stroke="#0f6e4a" stroke-width="1" stroke-opacity="0.7"/>
<path d="M145 426V479.5M142.8 426H147.2M142.8 479.5H147.2" fill="none" stroke="#0f6e4a" stroke-width="1" stroke-opacity="0.7"/>
<path d="M174.6 405.4V419.2M172.4 405.4H176.8M172.4 419.2H176.8" fill="none" stroke="#0f6e4a" stroke-width="1" stroke-opacity="0.7"/>
<path d="M233.8 421.8V432.2M231.6 421.8H236M231.6 432.2H236" fill="none" stroke="#0f6e4a" stroke-width="1" stroke-opacity="0.7"/>
<path d="M59.9 489V499M57.7 489H62.1M57.7 499H62.1" fill="none" stroke="#0f6e4a" stroke-width="1" stroke-opacity="0.7"/>
<polyline points="56.2,417.2 59.9,458.5 63.6,478.1 71,485.7 85.8,471 115.4,434.8 145,454.4 174.6,449.2 233.8,430.5" fill="none" stroke="#e3232c" stroke-width="1" stroke-linejoin="round"/>
<polyline points="56.2,417.2 59.9,483.4 63.6,499.2 71,495.1 85.8,482 115.4,463.6 145,434.8 174.6,446.3 233.8,444" fill="none" stroke="#2b3e98" stroke-width="1" stroke-linejoin="round"/>
<polyline points="56.2,417.2 59.9,494.1 63.6,500.2 71,503.1 85.8,480.4 115.4,468 145,454.4 174.6,412.3 233.8,427" fill="none" stroke="#0f6e4a" stroke-width="1" stroke-linejoin="round"/>
<circle cx="56.2" cy="417.2" r="2.75" fill="#e3232c"/>
<circle cx="59.9" cy="458.5" r="2.75" fill="#e3232c"/>
<circle cx="63.6" cy="478.1" r="2.75" fill="#e3232c"/>
<circle cx="71" cy="485.7" r="2.75" fill="#e3232c"/>
<circle cx="85.8" cy="471" r="2.75" fill="#e3232c"/>
<circle cx="115.4" cy="434.8" r="2.75" fill="#e3232c"/>
<circle cx="145" cy="454.4" r="2.75" fill="#e3232c"/>
<circle cx="174.6" cy="449.2" r="2.75" fill="#e3232c"/>
<circle cx="233.8" cy="430.5" r="2.75" fill="#e3232c"/>
<rect x="53.45" y="414.45" width="5.5" height="5.5" fill="#2b3e98"/>
<rect x="57.15" y="480.65" width="5.5" height="5.5" fill="#2b3e98"/>
<rect x="60.85" y="496.45" width="5.5" height="5.5" fill="#2b3e98"/>
<rect x="68.25" y="492.35" width="5.5" height="5.5" fill="#2b3e98"/>
<rect x="83.05" y="479.25" width="5.5" height="5.5" fill="#2b3e98"/>
<rect x="112.65" y="460.85" width="5.5" height="5.5" fill="#2b3e98"/>
<rect x="142.25" y="432.05" width="5.5" height="5.5" fill="#2b3e98"/>
<rect x="171.85" y="443.55" width="5.5" height="5.5" fill="#2b3e98"/>
<rect x="231.05" y="441.25" width="5.5" height="5.5" fill="#2b3e98"/>
<path d="M56.2 413.7L59.7 417.2L56.2 420.7L52.7 417.2Z" fill="#0f6e4a"/>
<path d="M59.9 490.6L63.4 494.1L59.9 497.6L56.4 494.1Z" fill="#0f6e4a"/>
<path d="M63.6 496.7L67.1 500.2L63.6 503.7L60.1 500.2Z" fill="#0f6e4a"/>
<path d="M71 499.6L74.5 503.1L71 506.6L67.5 503.1Z" fill="#0f6e4a"/>
<path d="M85.8 476.9L89.3 480.4L85.8 483.9L82.3 480.4Z" fill="#0f6e4a"/>
<path d="M115.4 464.5L118.9 468L115.4 471.5L111.9 468Z" fill="#0f6e4a"/>
<path d="M145 450.9L148.5 454.4L145 457.9L141.5 454.4Z" fill="#0f6e4a"/>
<path d="M174.6 408.8L178.1 412.3L174.6 415.8L171.1 412.3Z" fill="#0f6e4a"/>
<path d="M233.8 423.5L237.3 427L233.8 430.5L230.3 427Z" fill="#0f6e4a"/>
<rect x="53.27" y="414.18" width="6.05" height="6.05" fill="#0f6e4a"/>
<text x="0.2" y="564" font-size="20" font-weight="bold" fill="#111">F</text>
<text x="22" y="564" font-size="11" textLength="25.6" lengthAdjust="spacingAndGlyphs">Nrf-2</text>
<line x1="56.5" y1="583.5" x2="56.5" y2="687.9" stroke="#5a5a5a" stroke-width="1"/>
<line x1="51.3" y1="687.5" x2="56.5" y2="687.5" stroke="#5a5a5a" stroke-width="1"/>
<text x="48.2" y="691.41" font-size="11.2" text-anchor="end">0</text>
<line x1="51.3" y1="670.5" x2="56.5" y2="670.5" stroke="#5a5a5a" stroke-width="1"/>
<text x="48.2" y="674.09" font-size="11.2" text-anchor="end">250</text>
<line x1="51.3" y1="652.5" x2="56.5" y2="652.5" stroke="#5a5a5a" stroke-width="1"/>
<text x="48.2" y="656.77" font-size="11.2" text-anchor="end">500</text>
<line x1="51.3" y1="635.5" x2="56.5" y2="635.5" stroke="#5a5a5a" stroke-width="1"/>
<text x="48.2" y="639.46" font-size="11.2" text-anchor="end">750</text>
<line x1="51.3" y1="618.5" x2="56.5" y2="618.5" stroke="#5a5a5a" stroke-width="1"/>
<text x="48.2" y="622.14" font-size="11.2" text-anchor="end">1000</text>
<line x1="51.3" y1="600.5" x2="56.5" y2="600.5" stroke="#5a5a5a" stroke-width="1"/>
<text x="48.2" y="604.82" font-size="11.2" text-anchor="end">1250</text>
<line x1="51.3" y1="583.5" x2="56.5" y2="583.5" stroke="#5a5a5a" stroke-width="1"/>
<text x="48.2" y="587.5" font-size="11.2" text-anchor="end">1500</text>
<line x1="56" y1="687.5" x2="213.1" y2="687.5" stroke="#5a5a5a" stroke-width="1"/>
<line x1="56.5" y1="687.5" x2="56.5" y2="692.4" stroke="#5a5a5a" stroke-width="1"/>
<text x="56.3" y="704.51" font-size="11.2" text-anchor="middle">0</text>
<line x1="81.5" y1="687.5" x2="81.5" y2="692.4" stroke="#5a5a5a" stroke-width="1"/>
<text x="81.3" y="704.51" font-size="11.2" text-anchor="middle">4</text>
<line x1="106.5" y1="687.5" x2="106.5" y2="692.4" stroke="#5a5a5a" stroke-width="1"/>
<text x="106.3" y="704.51" font-size="11.2" text-anchor="middle">8</text>
<line x1="131.5" y1="687.5" x2="131.5" y2="692.4" stroke="#5a5a5a" stroke-width="1"/>
<text x="131.3" y="704.51" font-size="11.2" text-anchor="middle">12</text>
<line x1="156.5" y1="687.5" x2="156.5" y2="692.4" stroke="#5a5a5a" stroke-width="1"/>
<text x="156.3" y="704.51" font-size="11.2" text-anchor="middle">16</text>
<line x1="181.5" y1="687.5" x2="181.5" y2="692.4" stroke="#5a5a5a" stroke-width="1"/>
<text x="181.3" y="704.51" font-size="11.2" text-anchor="middle">20</text>
<line x1="206.5" y1="687.5" x2="206.5" y2="692.4" stroke="#5a5a5a" stroke-width="1"/>
<text x="206.3" y="704.51" font-size="11.2" text-anchor="middle">24</text>
<text x="131.6" y="717.31" font-size="11.5" text-anchor="middle">Time after dose (hours)</text>
<text x="10.1" y="634.3" font-size="11.5" text-anchor="middle" transform="rotate(-90 10.1 634.3)">Nrf-2 levels (normalized)</text>
<line x1="56.3" y1="636.3" x2="198.3" y2="636.3" stroke="#777" stroke-width="1"/>
<line x1="140" y1="582.3" x2="151.6" y2="582.3" stroke="#111" stroke-width="1"/>
<path d="M145.6 579.92L147.98 584.2L143.22 584.2Z" fill="#111"/>
<text x="157.6" y="585" font-size="11.5" textLength="36.4" lengthAdjust="spacingAndGlyphs">Vehicle</text>
<line x1="140" y1="594.05" x2="151.6" y2="594.05" stroke="#e3232c" stroke-width="1"/>
<circle cx="145.6" cy="594.05" r="2.34" fill="#e3232c"/>
<text x="157.6" y="596.8" font-size="11.5" textLength="47.5" lengthAdjust="spacingAndGlyphs">10 mg/kg</text>
<line x1="140" y1="605.8" x2="151.6" y2="605.8" stroke="#2b3e98" stroke-width="1"/>
<rect x="143.26" y="603.46" width="4.67" height="4.67" fill="#2b3e98"/>
<text x="157.6" y="608.6" font-size="11.5" textLength="47.5" lengthAdjust="spacingAndGlyphs">30 mg/kg</text>
<line x1="140" y1="617.55" x2="151.6" y2="617.55" stroke="#0f6e4a" stroke-width="1"/>
<path d="M145.6 614.57L148.57 617.55L145.6 620.52L142.62 617.55Z" fill="#0f6e4a"/>
<text x="157.6" y="620.4" font-size="11.5" textLength="47.5" lengthAdjust="spacingAndGlyphs">60 mg/kg</text>
<path d="M68.8 642.7V673.8M66.6 642.7H71M66.6 673.8H71" fill="none" stroke="#e3232c" stroke-width="1" stroke-opacity="0.7"/>
<path d="M81.3 646V667.1M79.1 646H83.5M79.1 667.1H83.5" fill="none" stroke="#e3232c" stroke-width="1" stroke-opacity="0.7"/>
<path d="M68.8 615.8V641.6M66.6 615.8H71M66.6 641.6H71" fill="none" stroke="#2b3e98" stroke-width="1" stroke-opacity="0.7"/>
<path d="M81.3 629.6V645M79.1 629.6H83.5M79.1 645H83.5" fill="none" stroke="#2b3e98" stroke-width="1" stroke-opacity="0.7"/>
<path d="M62.55 657V669M60.35 657H64.75M60.35 669H64.75" fill="none" stroke="#2b3e98" stroke-width="1" stroke-opacity="0.7"/>
<path d="M81.3 583.5V626.7M79.1 583.5H83.5M79.1 626.7H83.5" fill="none" stroke="#0f6e4a" stroke-width="1" stroke-opacity="0.7"/>
<path d="M106.3 658.8V670M104.1 658.8H108.5M104.1 670H108.5" fill="none" stroke="#0f6e4a" stroke-width="1" stroke-opacity="0.7"/>
<path d="M62.55 652V666M60.35 652H64.75M60.35 666H64.75" fill="none" stroke="#0f6e4a" stroke-width="1" stroke-opacity="0.7"/>
<path d="M68.8 622V643M66.6 622H71M66.6 643H71" fill="none" stroke="#0f6e4a" stroke-width="1" stroke-opacity="0.7"/>
<polyline points="56.3,685.4 59.42,682.5 62.55,673.3 68.8,658.5 81.3,656.9 106.3,680.2 131.3,683.5 156.3,683.8 206.3,683.5" fill="none" stroke="#e3232c" stroke-width="1" stroke-linejoin="round"/>
<polyline points="56.3,685.4 59.42,677.5 62.55,663.3 68.8,628.7 81.3,637.3 106.3,673.3 131.3,683.8 156.3,684 206.3,685" fill="none" stroke="#2b3e98" stroke-width="1" stroke-linejoin="round"/>
<polyline points="56.3,685.4 59.42,676.3 62.55,659.4 68.8,632.5 81.3,605.6 106.3,664.2 131.3,680.3 156.3,683 206.3,685.6" fill="none" stroke="#0f6e4a" stroke-width="1" stroke-linejoin="round"/>
<circle cx="56.3" cy="685.4" r="2.75" fill="#e3232c"/>
<circle cx="59.42" cy="682.5" r="2.75" fill="#e3232c"/>
<circle cx="62.55" cy="673.3" r="2.75" fill="#e3232c"/>
<circle cx="68.8" cy="658.5" r="2.75" fill="#e3232c"/>
<circle cx="81.3" cy="656.9" r="2.75" fill="#e3232c"/>
<circle cx="106.3" cy="680.2" r="2.75" fill="#e3232c"/>
<circle cx="131.3" cy="683.5" r="2.75" fill="#e3232c"/>
<circle cx="156.3" cy="683.8" r="2.75" fill="#e3232c"/>
<circle cx="206.3" cy="683.5" r="2.75" fill="#e3232c"/>
<rect x="53.55" y="682.65" width="5.5" height="5.5" fill="#2b3e98"/>
<rect x="56.67" y="674.75" width="5.5" height="5.5" fill="#2b3e98"/>
<rect x="59.8" y="660.55" width="5.5" height="5.5" fill="#2b3e98"/>
<rect x="66.05" y="625.95" width="5.5" height="5.5" fill="#2b3e98"/>
<rect x="78.55" y="634.55" width="5.5" height="5.5" fill="#2b3e98"/>
<rect x="103.55" y="670.55" width="5.5" height="5.5" fill="#2b3e98"/>
<rect x="128.55" y="681.05" width="5.5" height="5.5" fill="#2b3e98"/>
<rect x="153.55" y="681.25" width="5.5" height="5.5" fill="#2b3e98"/>
<rect x="203.55" y="682.25" width="5.5" height="5.5" fill="#2b3e98"/>
<path d="M56.3 681.9L59.8 685.4L56.3 688.9L52.8 685.4Z" fill="#0f6e4a"/>
<path d="M59.42 672.8L62.92 676.3L59.42 679.8L55.92 676.3Z" fill="#0f6e4a"/>
<path d="M62.55 655.9L66.05 659.4L62.55 662.9L59.05 659.4Z" fill="#0f6e4a"/>
<path d="M68.8 629L72.3 632.5L68.8 636L65.3 632.5Z" fill="#0f6e4a"/>
<path d="M81.3 602.1L84.8 605.6L81.3 609.1L77.8 605.6Z" fill="#0f6e4a"/>
<path d="M106.3 660.7L109.8 664.2L106.3 667.7L102.8 664.2Z" fill="#0f6e4a"/>
<path d="M131.3 676.8L134.8 680.3L131.3 683.8L127.8 680.3Z" fill="#0f6e4a"/>
<path d="M156.3 679.5L159.8 683L156.3 686.5L152.8 683Z" fill="#0f6e4a"/>
<path d="M206.3 682.1L209.8 685.6L206.3 689.1L202.8 685.6Z" fill="#0f6e4a"/>
<text x="258.2" y="365.9" font-size="20" font-weight="bold" fill="#111">G</text>
<text x="283.4" y="366.2" font-size="11" textLength="30.6" lengthAdjust="spacingAndGlyphs">pIKBa</text>
<line x1="307.5" y1="383.19" x2="307.5" y2="515.8" stroke="#5a5a5a" stroke-width="1"/>
<line x1="302.3" y1="515.5" x2="307.5" y2="515.5" stroke="#5a5a5a" stroke-width="1"/>
<text x="298.4" y="519.31" font-size="11.2" text-anchor="end">0</text>
<line x1="302.3" y1="471.5" x2="307.5" y2="471.5" stroke="#5a5a5a" stroke-width="1"/>
<text x="298.4" y="475.27" font-size="11.2" text-anchor="end">5</text>
<line x1="302.3" y1="427.5" x2="307.5" y2="427.5" stroke="#5a5a5a" stroke-width="1"/>
<text x="298.4" y="431.24" font-size="11.2" text-anchor="end">10</text>
<line x1="302.3" y1="383.5" x2="307.5" y2="383.5" stroke="#5a5a5a" stroke-width="1"/>
<text x="298.4" y="387.2" font-size="11.2" text-anchor="end">15</text>
<line x1="307" y1="515.5" x2="507.5" y2="515.5" stroke="#5a5a5a" stroke-width="1"/>
<line x1="307.5" y1="515.5" x2="307.5" y2="520.3" stroke="#5a5a5a" stroke-width="1"/>
<text x="307.3" y="532.01" font-size="11.2" text-anchor="middle">0</text>
<line x1="339.5" y1="515.5" x2="339.5" y2="520.3" stroke="#5a5a5a" stroke-width="1"/>
<text x="339.34" y="532.01" font-size="11.2" text-anchor="middle">4</text>
<line x1="371.5" y1="515.5" x2="371.5" y2="520.3" stroke="#5a5a5a" stroke-width="1"/>
<text x="371.38" y="532.01" font-size="11.2" text-anchor="middle">8</text>
<line x1="403.5" y1="515.5" x2="403.5" y2="520.3" stroke="#5a5a5a" stroke-width="1"/>
<text x="403.42" y="532.01" font-size="11.2" text-anchor="middle">12</text>
<line x1="435.5" y1="515.5" x2="435.5" y2="520.3" stroke="#5a5a5a" stroke-width="1"/>
<text x="435.46" y="532.01" font-size="11.2" text-anchor="middle">16</text>
<line x1="467.5" y1="515.5" x2="467.5" y2="520.3" stroke="#5a5a5a" stroke-width="1"/>
<text x="467.5" y="532.01" font-size="11.2" text-anchor="middle">20</text>
<line x1="499.5" y1="515.5" x2="499.5" y2="520.3" stroke="#5a5a5a" stroke-width="1"/>
<text x="499.54" y="532.01" font-size="11.2" text-anchor="middle">24</text>
<text x="399.6" y="545.81" font-size="11.5" text-anchor="middle">Time after dose (hours)</text>
<text x="267" y="450.8" font-size="11.5" text-anchor="middle" transform="rotate(-90 267 450.8)">pIKBa levels</text>
<text x="280.8" y="450.7" font-size="11.5" text-anchor="middle" transform="rotate(-90 280.8 450.7)">(normalized to vehicle = 1)</text>
<path d="M339.34 496.5V505M337.14 496.5H341.54M337.14 505H341.54" fill="none" stroke="#0f6e4a" stroke-width="1" stroke-opacity="0.7"/>
<path d="M499.54 502.9V513.8M497.34 502.9H501.74M497.34 513.8H501.74" fill="none" stroke="#0f6e4a" stroke-width="1" stroke-opacity="0.7"/>
<path d="M499.54 504V513M497.34 504H501.74M497.34 513H501.74" fill="none" stroke="#e3232c" stroke-width="1" stroke-opacity="0.7"/>
<polyline points="307.3,506.4 311.31,508.8 315.31,506.8 323.32,498.8 339.34,508.4 371.38,508 403.42,508.9 435.46,510 499.54,509.6" fill="none" stroke="#e3232c" stroke-width="1" stroke-linejoin="round"/>
<polyline points="307.3,506.4 311.31,506 315.31,499.5 323.32,488.2 339.34,500.7 371.38,505.8 403.42,506.6 435.46,510.2 499.54,507.5" fill="none" stroke="#0f6e4a" stroke-width="1" stroke-linejoin="round"/>
<polyline points="307.3,506.4 311.31,507.6 315.31,500 323.32,495.4 339.34,504 371.38,506.8 403.42,508.7 435.46,508.1 499.54,508.6" fill="none" stroke="#2b3e98" stroke-width="1" stroke-linejoin="round"/>
<circle cx="307.3" cy="506.4" r="2.75" fill="#e3232c"/>
<circle cx="311.31" cy="508.8" r="2.75" fill="#e3232c"/>
<circle cx="315.31" cy="506.8" r="2.75" fill="#e3232c"/>
<circle cx="323.32" cy="498.8" r="2.75" fill="#e3232c"/>
<circle cx="339.34" cy="508.4" r="2.75" fill="#e3232c"/>
<circle cx="371.38" cy="508" r="2.75" fill="#e3232c"/>
<circle cx="403.42" cy="508.9" r="2.75" fill="#e3232c"/>
<circle cx="435.46" cy="510" r="2.75" fill="#e3232c"/>
<circle cx="499.54" cy="509.6" r="2.75" fill="#e3232c"/>
<rect x="304.55" y="503.65" width="5.5" height="5.5" fill="#2b3e98"/>
<rect x="308.56" y="504.85" width="5.5" height="5.5" fill="#2b3e98"/>
<rect x="312.56" y="497.25" width="5.5" height="5.5" fill="#2b3e98"/>
<rect x="320.57" y="492.65" width="5.5" height="5.5" fill="#2b3e98"/>
<rect x="336.59" y="501.25" width="5.5" height="5.5" fill="#2b3e98"/>
<rect x="368.63" y="504.05" width="5.5" height="5.5" fill="#2b3e98"/>
<rect x="400.67" y="505.95" width="5.5" height="5.5" fill="#2b3e98"/>
<rect x="432.71" y="505.35" width="5.5" height="5.5" fill="#2b3e98"/>
<rect x="496.79" y="505.85" width="5.5" height="5.5" fill="#2b3e98"/>
<path d="M307.3 502.9L310.8 506.4L307.3 509.9L303.8 506.4Z" fill="#2b3e98"/>
<path d="M311.31 502.5L314.81 506L311.31 509.5L307.81 506Z" fill="#2b3e98"/>
<path d="M315.31 496L318.81 499.5L315.31 503L311.81 499.5Z" fill="#2b3e98"/>
<path d="M323.32 484.7L326.82 488.2L323.32 491.7L319.82 488.2Z" fill="#2b3e98"/>
<path d="M339.34 497.2L342.84 500.7L339.34 504.2L335.84 500.7Z" fill="#0f6e4a"/>
<path d="M371.38 502.3L374.88 505.8L371.38 509.3L367.88 505.8Z" fill="#0f6e4a"/>
<path d="M403.42 503.1L406.92 506.6L403.42 510.1L399.92 506.6Z" fill="#0f6e4a"/>
<path d="M435.46 506.7L438.96 510.2L435.46 513.7L431.96 510.2Z" fill="#0f6e4a"/>
<path d="M499.54 504L503.04 507.5L499.54 511L496.04 507.5Z" fill="#0f6e4a"/>
<text x="230.1" y="564.1" font-size="20" font-weight="bold" fill="#111">H</text>
<text x="249" y="564.4" font-size="11" textLength="88" lengthAdjust="spacingAndGlyphs">Cleaved caspase</text>
<line x1="233.9" y1="592.4" x2="255.9" y2="592.4" stroke="#4a4a4a" stroke-width="1.3"/>
<text x="244.9" y="589.5" font-size="11" text-anchor="middle">V</text>
<line x1="259.9" y1="592.4" x2="281.9" y2="592.4" stroke="#4a4a4a" stroke-width="1.3"/>
<text x="270.9" y="589.5" font-size="11" text-anchor="middle">0.5</text>
<line x1="286.1" y1="592.4" x2="308.1" y2="592.4" stroke="#4a4a4a" stroke-width="1.3"/>
<text x="297.1" y="589.5" font-size="11" text-anchor="middle">1</text>
<line x1="312.5" y1="592.4" x2="334.5" y2="592.4" stroke="#4a4a4a" stroke-width="1.3"/>
<text x="323.5" y="589.5" font-size="11" text-anchor="middle">2</text>
<line x1="338.6" y1="592.4" x2="360.6" y2="592.4" stroke="#4a4a4a" stroke-width="1.3"/>
<text x="349.6" y="589.5" font-size="11" text-anchor="middle">4</text>
<line x1="364.7" y1="592.4" x2="386.7" y2="592.4" stroke="#4a4a4a" stroke-width="1.3"/>
<text x="375.7" y="589.5" font-size="11" text-anchor="middle">8</text>
<line x1="391.8" y1="592.4" x2="413.8" y2="592.4" stroke="#4a4a4a" stroke-width="1.3"/>
<text x="402.8" y="589.5" font-size="11" text-anchor="middle">12</text>
<line x1="417.6" y1="592.4" x2="439.6" y2="592.4" stroke="#4a4a4a" stroke-width="1.3"/>
<text x="428.6" y="589.5" font-size="11" text-anchor="middle">16</text>
<line x1="443.8" y1="592.4" x2="466.6" y2="592.4" stroke="#4a4a4a" stroke-width="1.3"/>
<text x="455.2" y="589.5" font-size="11" text-anchor="middle" textLength="22.6" lengthAdjust="spacingAndGlyphs">24 hr</text>
<rect x="232.4" y="599.2" width="234" height="14.2" fill="#f5f5f5"/>
<g stroke-width="1.1" stroke-opacity="0.4">
<rect x="235.3" y="601.8" width="5" height="3.6" fill="#e2e2e2" stroke="#e2e2e2"/>
<rect x="235.3" y="604.6" width="5" height="1.4" fill="#dfdfdf" stroke="#dfdfdf"/>
<rect x="235.3" y="607.8" width="5" height="1.6" fill="#9d9d9d" stroke="#9d9d9d"/>
<rect x="243.9" y="601.8" width="5" height="3.6" fill="#dfdfdf" stroke="#dfdfdf"/>
<rect x="243.9" y="604.6" width="5" height="1.4" fill="#dbdbdb" stroke="#dbdbdb"/>
<rect x="243.9" y="607.8" width="5" height="1.6" fill="#929292" stroke="#929292"/>
<rect x="251.7" y="601.8" width="5" height="3.6" fill="#dddddd" stroke="#dddddd"/>
<rect x="251.7" y="604.6" width="5" height="1.4" fill="#dbdbdb" stroke="#dbdbdb"/>
<rect x="251.7" y="607.8" width="5" height="1.6" fill="#878787" stroke="#878787"/>
<rect x="260.4" y="601.8" width="5" height="3.6" fill="#dddddd" stroke="#dddddd"/>
<rect x="260.4" y="604.6" width="5" height="1.4" fill="#dfdfdf" stroke="#dfdfdf"/>
<rect x="260.4" y="607.8" width="5" height="1.6" fill="#878787" stroke="#878787"/>
<rect x="268.2" y="601.8" width="5" height="3.6" fill="#dfdfdf" stroke="#dfdfdf"/>
<rect x="268.2" y="604.6" width="5" height="1.4" fill="#dfdfdf" stroke="#dfdfdf"/>
<rect x="268.2" y="607.8" width="5" height="1.6" fill="#929292" stroke="#929292"/>
<rect x="276.8" y="601.8" width="5" height="3.6" fill="#e2e2e2" stroke="#e2e2e2"/>
<rect x="276.8" y="604.6" width="5" height="1.4" fill="#e8e8e8" stroke="#e8e8e8"/>
<rect x="276.8" y="607.8" width="5" height="1.6" fill="#9d9d9d" stroke="#9d9d9d"/>
<rect x="285.5" y="601.8" width="5" height="3.6" fill="#dfdfdf" stroke="#dfdfdf"/>
<rect x="285.5" y="604.6" width="5" height="1.4" fill="#e3e3e3" stroke="#e3e3e3"/>
<rect x="285.5" y="607.8" width="5" height="1.6" fill="#929292" stroke="#929292"/>
<rect x="294.1" y="601.8" width="5" height="3.6" fill="#dadada" stroke="#dadada"/>
<rect x="294.1" y="604.6" width="5" height="1.4" fill="#d4d4d4" stroke="#d4d4d4"/>
<rect x="294.1" y="607.8" width="5" height="1.6" fill="#7c7c7c" stroke="#7c7c7c"/>
<rect x="303.6" y="601.8" width="5" height="3.6" fill="#cecece" stroke="#cecece"/>
<rect x="303.6" y="604.6" width="5" height="1.4" fill="#c9c9c9" stroke="#c9c9c9"/>
<rect x="303.6" y="607.8" width="5" height="1.6" fill="#454545" stroke="#454545"/>
<rect x="315" y="601.8" width="5" height="3.6" fill="#efefef" stroke="#efefef"/>
<rect x="315" y="604.6" width="5" height="1.4" fill="#eaeaea" stroke="#eaeaea"/>
<rect x="315" y="607.8" width="5" height="1.6" fill="#dbdbdb" stroke="#dbdbdb"/>
<rect x="322.8" y="601.8" width="5" height="3.6" fill="#e4e4e4" stroke="#e4e4e4"/>
<rect x="322.8" y="604.6" width="5" height="1.4" fill="#b3b3b3" stroke="#b3b3b3"/>
<rect x="322.8" y="607.8" width="5" height="1.6" fill="#a8a8a8" stroke="#a8a8a8"/>
<rect x="331.1" y="601.8" width="5" height="3.6" fill="#d1d1d1" stroke="#d1d1d1"/>
<rect x="331.1" y="604.6" width="5" height="1.4" fill="#505050" stroke="#505050"/>
<rect x="331.1" y="607.8" width="5" height="1.6" fill="#5b5b5b" stroke="#5b5b5b"/>
<rect x="340.1" y="601.8" width="5" height="3.6" fill="#eeeeee" stroke="#eeeeee"/>
<rect x="340.1" y="604.6" width="5" height="1.4" fill="#dfdfdf" stroke="#dfdfdf"/>
<rect x="340.1" y="607.8" width="5" height="1.6" fill="#d4d4d4" stroke="#d4d4d4"/>
<rect x="347.9" y="601.8" width="5" height="3.6" fill="#d8d8d8" stroke="#d8d8d8"/>
<rect x="347.9" y="604.6" width="5" height="1.4" fill="#c9c9c9" stroke="#c9c9c9"/>
<rect x="347.9" y="607.8" width="5" height="1.6" fill="#717171" stroke="#717171"/>
<rect x="356" y="601.8" width="5" height="3.6" fill="#e4e4e4" stroke="#e4e4e4"/>
<rect x="356" y="604.6" width="5" height="1.4" fill="#a8a8a8" stroke="#a8a8a8"/>
<rect x="356" y="607.8" width="5" height="1.6" fill="#a8a8a8" stroke="#a8a8a8"/>
<rect x="364.3" y="601.8" width="5" height="3.6" fill="#e6e6e6" stroke="#e6e6e6"/>
<rect x="364.3" y="604.6" width="5" height="1.4" fill="#b3b3b3" stroke="#b3b3b3"/>
<rect x="364.3" y="607.8" width="5" height="1.6" fill="#b3b3b3" stroke="#b3b3b3"/>
<rect x="372.6" y="601.8" width="5" height="3.6" fill="#ebebeb" stroke="#ebebeb"/>
<rect x="372.6" y="604.6" width="5" height="1.4" fill="#d4d4d4" stroke="#d4d4d4"/>
<rect x="372.6" y="607.8" width="5" height="1.6" fill="#c9c9c9" stroke="#c9c9c9"/>
<rect x="380.8" y="601.8" width="5" height="3.6" fill="#e6e6e6" stroke="#e6e6e6"/>
<rect x="380.8" y="604.6" width="5" height="1.4" fill="#bebebe" stroke="#bebebe"/>
<rect x="380.8" y="607.8" width="5" height="1.6" fill="#b3b3b3" stroke="#b3b3b3"/>
<rect x="391.4" y="601.8" width="5" height="3.6" fill="#e4e4e4" stroke="#e4e4e4"/>
<rect x="391.4" y="604.6" width="5" height="1.4" fill="#b3b3b3" stroke="#b3b3b3"/>
<rect x="391.4" y="607.8" width="5" height="1.6" fill="#a8a8a8" stroke="#a8a8a8"/>
<rect x="399.7" y="601.8" width="5" height="3.6" fill="#e4e4e4" stroke="#e4e4e4"/>
<rect x="399.7" y="604.6" width="5" height="1.4" fill="#a8a8a8" stroke="#a8a8a8"/>
<rect x="399.7" y="607.8" width="5" height="1.6" fill="#a8a8a8" stroke="#a8a8a8"/>
<rect x="407.9" y="601.8" width="5" height="3.6" fill="#e9e9e9" stroke="#e9e9e9"/>
<rect x="407.9" y="604.6" width="5" height="1.4" fill="#d4d4d4" stroke="#d4d4d4"/>
<rect x="407.9" y="607.8" width="5" height="1.6" fill="#bebebe" stroke="#bebebe"/>
<rect x="416.2" y="601.8" width="5" height="3.6" fill="#efefef" stroke="#efefef"/>
<rect x="416.2" y="604.6" width="5" height="1.4" fill="#dfdfdf" stroke="#dfdfdf"/>
<rect x="416.2" y="607.8" width="5" height="1.6" fill="#dbdbdb" stroke="#dbdbdb"/>
<rect x="424.8" y="601.8" width="5" height="3.6" fill="#e9e9e9" stroke="#e9e9e9"/>
<rect x="424.8" y="604.6" width="5" height="1.4" fill="#dbdbdb" stroke="#dbdbdb"/>
<rect x="424.8" y="607.8" width="5" height="1.6" fill="#bebebe" stroke="#bebebe"/>
<rect x="433.6" y="601.8" width="5" height="3.6" fill="#e9e9e9" stroke="#e9e9e9"/>
<rect x="433.6" y="604.6" width="5" height="1.4" fill="#d4d4d4" stroke="#d4d4d4"/>
<rect x="433.6" y="607.8" width="5" height="1.6" fill="#bebebe" stroke="#bebebe"/>
<rect x="441.8" y="601.8" width="5" height="3.6" fill="#e9e9e9" stroke="#e9e9e9"/>
<rect x="441.8" y="604.6" width="5" height="1.4" fill="#dbdbdb" stroke="#dbdbdb"/>
<rect x="441.8" y="607.8" width="5" height="1.6" fill="#bebebe" stroke="#bebebe"/>
<rect x="450.1" y="601.8" width="5" height="3.6" fill="#dddddd" stroke="#dddddd"/>
<rect x="450.1" y="604.6" width="5" height="1.4" fill="#929292" stroke="#929292"/>
<rect x="450.1" y="607.8" width="5" height="1.6" fill="#878787" stroke="#878787"/>
<rect x="457.9" y="601.8" width="5" height="3.6" fill="#dfdfdf" stroke="#dfdfdf"/>
<rect x="457.9" y="604.6" width="5" height="1.4" fill="#9d9d9d" stroke="#9d9d9d"/>
<rect x="457.9" y="607.8" width="5" height="1.6" fill="#929292" stroke="#929292"/>
</g>
<line x1="311.3" y1="599.2" x2="311.3" y2="613.4" stroke="#222" stroke-width="1.1"/>
<line x1="387.7" y1="599.2" x2="387.7" y2="613.4" stroke="#222" stroke-width="1.1"/>
<rect x="232.4" y="599.2" width="234" height="14.2" fill="none" stroke="#3a3a3a" stroke-width="1.1"/>
<text x="471.6" y="610.6" font-size="11" textLength="47" lengthAdjust="spacingAndGlyphs">10 mg/kg</text>
<rect x="259.8" y="625.6" width="206.6" height="13.8" fill="#f5f5f5"/>
<g stroke-width="1.1" stroke-opacity="0.4">
<rect x="260.4" y="628.2" width="5" height="4.6" fill="#c7c7c7" stroke="#c7c7c7"/>
<rect x="260.4" y="632" width="5" height="1.4" fill="#242424" stroke="#242424"/>
<rect x="260.4" y="635.2" width="5" height="1.6" fill="#9d9d9d" stroke="#9d9d9d"/>
<rect x="269.1" y="628.2" width="5" height="4.6" fill="#dadada" stroke="#dadada"/>
<rect x="269.1" y="632" width="5" height="1.4" fill="#7c7c7c" stroke="#7c7c7c"/>
<rect x="269.1" y="635.2" width="5" height="1.6" fill="#929292" stroke="#929292"/>
<rect x="277.7" y="628.2" width="5" height="4.6" fill="#dfdfdf" stroke="#dfdfdf"/>
<rect x="277.7" y="632" width="5" height="1.4" fill="#929292" stroke="#929292"/>
<rect x="277.7" y="635.2" width="5" height="1.6" fill="#9d9d9d" stroke="#9d9d9d"/>
<rect x="286.4" y="628.2" width="5" height="4.6" fill="#ebebeb" stroke="#ebebeb"/>
<rect x="286.4" y="632" width="5" height="1.4" fill="#d4d4d4" stroke="#d4d4d4"/>
<rect x="286.4" y="635.2" width="5" height="1.6" fill="#c9c9c9" stroke="#c9c9c9"/>
<rect x="295.9" y="628.2" width="5" height="4.6" fill="#dadada" stroke="#dadada"/>
<rect x="295.9" y="632" width="5" height="1.4" fill="#c9c9c9" stroke="#c9c9c9"/>
<rect x="295.9" y="635.2" width="5" height="1.6" fill="#7c7c7c" stroke="#7c7c7c"/>
<rect x="304.5" y="628.2" width="5" height="4.6" fill="#dfdfdf" stroke="#dfdfdf"/>
<rect x="304.5" y="632" width="5" height="1.4" fill="#c9c9c9" stroke="#c9c9c9"/>
<rect x="304.5" y="635.2" width="5" height="1.6" fill="#929292" stroke="#929292"/>
<rect x="313.2" y="628.2" width="5" height="4.6" fill="#cecece" stroke="#cecece"/>
<rect x="313.2" y="632" width="5" height="1.4" fill="#bebebe" stroke="#bebebe"/>
<rect x="313.2" y="635.2" width="5" height="1.6" fill="#454545" stroke="#454545"/>
<rect x="321.8" y="628.2" width="5" height="4.6" fill="#dadada" stroke="#dadada"/>
<rect x="321.8" y="632" width="5" height="1.4" fill="#c9c9c9" stroke="#c9c9c9"/>
<rect x="321.8" y="635.2" width="5" height="1.6" fill="#7c7c7c" stroke="#7c7c7c"/>
<rect x="330.5" y="628.2" width="5" height="4.6" fill="#cccccc" stroke="#cccccc"/>
<rect x="330.5" y="632" width="5" height="1.4" fill="#878787" stroke="#878787"/>
<rect x="330.5" y="635.2" width="5" height="1.6" fill="#3a3a3a" stroke="#3a3a3a"/>
<rect x="340.4" y="628.2" width="5" height="4.6" fill="#ebebeb" stroke="#ebebeb"/>
<rect x="340.4" y="632" width="5" height="1.4" fill="#dfdfdf" stroke="#dfdfdf"/>
<rect x="340.4" y="635.2" width="5" height="1.6" fill="#c9c9c9" stroke="#c9c9c9"/>
<rect x="349.1" y="628.2" width="5" height="4.6" fill="#d8d8d8" stroke="#d8d8d8"/>
<rect x="349.1" y="632" width="5" height="1.4" fill="#929292" stroke="#929292"/>
<rect x="349.1" y="635.2" width="5" height="1.6" fill="#717171" stroke="#717171"/>
<rect x="357.7" y="628.2" width="5" height="4.6" fill="#dadada" stroke="#dadada"/>
<rect x="357.7" y="632" width="5" height="1.4" fill="#929292" stroke="#929292"/>
<rect x="357.7" y="635.2" width="5" height="1.6" fill="#7c7c7c" stroke="#7c7c7c"/>
<rect x="366.4" y="628.2" width="5" height="4.6" fill="#e9e9e9" stroke="#e9e9e9"/>
<rect x="366.4" y="632" width="5" height="1.4" fill="#d4d4d4" stroke="#d4d4d4"/>
<rect x="366.4" y="635.2" width="5" height="1.6" fill="#bebebe" stroke="#bebebe"/>
<rect x="375" y="628.2" width="5" height="4.6" fill="#eeeeee" stroke="#eeeeee"/>
<rect x="375" y="632" width="5" height="1.4" fill="#eaeaea" stroke="#eaeaea"/>
<rect x="375" y="635.2" width="5" height="1.6" fill="#d4d4d4" stroke="#d4d4d4"/>
<rect x="383.7" y="628.2" width="5" height="4.6" fill="#ebebeb" stroke="#ebebeb"/>
<rect x="383.7" y="632" width="5" height="1.4" fill="#e3e3e3" stroke="#e3e3e3"/>
<rect x="383.7" y="635.2" width="5" height="1.6" fill="#c9c9c9" stroke="#c9c9c9"/>
<rect x="391.5" y="628.2" width="5" height="4.6" fill="#f0f0f0" stroke="#f0f0f0"/>
<rect x="391.5" y="632" width="5" height="1.4" fill="#eaeaea" stroke="#eaeaea"/>
<rect x="391.5" y="635.2" width="5" height="1.6" fill="#dfdfdf" stroke="#dfdfdf"/>
<rect x="406.2" y="635.2" width="5" height="1.6" fill="#eaeaea" stroke="#eaeaea"/>
<rect x="417.7" y="628.2" width="5" height="4.6" fill="#f0f0f0" stroke="#f0f0f0"/>
<rect x="417.7" y="632" width="5" height="1.4" fill="#e8e8e8" stroke="#e8e8e8"/>
<rect x="417.7" y="635.2" width="5" height="1.6" fill="#dfdfdf" stroke="#dfdfdf"/>
<rect x="425.1" y="628.2" width="5" height="4.6" fill="#efefef" stroke="#efefef"/>
<rect x="425.1" y="632" width="5" height="1.4" fill="#e3e3e3" stroke="#e3e3e3"/>
<rect x="425.1" y="635.2" width="5" height="1.6" fill="#dbdbdb" stroke="#dbdbdb"/>
<rect x="433.8" y="628.2" width="5" height="4.6" fill="#f0f0f0" stroke="#f0f0f0"/>
<rect x="433.8" y="632" width="5" height="1.4" fill="#eaeaea" stroke="#eaeaea"/>
<rect x="433.8" y="635.2" width="5" height="1.6" fill="#dfdfdf" stroke="#dfdfdf"/>
<rect x="441.9" y="628.2" width="5" height="4.6" fill="#e6e6e6" stroke="#e6e6e6"/>
<rect x="441.9" y="632" width="5" height="1.4" fill="#dfdfdf" stroke="#dfdfdf"/>
<rect x="441.9" y="635.2" width="5" height="1.6" fill="#b3b3b3" stroke="#b3b3b3"/>
<rect x="450" y="628.2" width="5" height="4.6" fill="#f0f0f0" stroke="#f0f0f0"/>
<rect x="450" y="632" width="5" height="1.4" fill="#eaeaea" stroke="#eaeaea"/>
<rect x="450" y="635.2" width="5" height="1.6" fill="#dfdfdf" stroke="#dfdfdf"/>
<rect x="458.1" y="628.2" width="5" height="4.6" fill="#e6e6e6" stroke="#e6e6e6"/>
<rect x="458.1" y="632" width="5" height="1.4" fill="#dfdfdf" stroke="#dfdfdf"/>
<rect x="458.1" y="635.2" width="5" height="1.6" fill="#b3b3b3" stroke="#b3b3b3"/>
</g>
<line x1="338.5" y1="625.6" x2="338.5" y2="639.4" stroke="#222" stroke-width="1.1"/>
<line x1="414.6" y1="625.6" x2="414.6" y2="639.4" stroke="#222" stroke-width="1.1"/>
<rect x="259.8" y="625.6" width="206.6" height="13.8" fill="none" stroke="#3a3a3a" stroke-width="1.1"/>
<rect x="399.6" y="630.4" width="6.4" height="7.2" fill="#1c1c1c" stroke="#1c1c1c" stroke-width="0.8" stroke-opacity="0.4"/>
<rect x="399.6" y="633.4" width="6.4" height="0.9" fill="#666"/>
<text x="471.4" y="637.1" font-size="11" textLength="47.6" lengthAdjust="spacingAndGlyphs">30 mg/kg</text>
<rect x="259.8" y="651.7" width="206.6" height="13.9" fill="#f5f5f5"/>
<g stroke-width="1.1" stroke-opacity="0.4">
<rect x="261.3" y="654.3" width="5" height="4.3" fill="#efefef" stroke="#efefef"/>
<rect x="261.3" y="657.8" width="5" height="1.4" fill="#e3e3e3" stroke="#e3e3e3"/>
<rect x="261.3" y="661" width="5" height="1.6" fill="#dbdbdb" stroke="#dbdbdb"/>
<rect x="267" y="654.3" width="5" height="4.3" fill="#eeeeee" stroke="#eeeeee"/>
<rect x="267" y="657.8" width="5" height="1.4" fill="#dfdfdf" stroke="#dfdfdf"/>
<rect x="267" y="661" width="5" height="1.6" fill="#d4d4d4" stroke="#d4d4d4"/>
<rect x="287.2" y="654.3" width="5" height="4.3" fill="#dfdfdf" stroke="#dfdfdf"/>
<rect x="287.2" y="657.8" width="5" height="1.4" fill="#bebebe" stroke="#bebebe"/>
<rect x="287.2" y="661" width="5" height="1.6" fill="#929292" stroke="#929292"/>
<rect x="295.9" y="654.3" width="5" height="4.3" fill="#dfdfdf" stroke="#dfdfdf"/>
<rect x="295.9" y="657.8" width="5" height="1.4" fill="#bebebe" stroke="#bebebe"/>
<rect x="295.9" y="661" width="5" height="1.6" fill="#929292" stroke="#929292"/>
<rect x="304.5" y="654.3" width="5" height="4.3" fill="#dfdfdf" stroke="#dfdfdf"/>
<rect x="304.5" y="657.8" width="5" height="1.4" fill="#b3b3b3" stroke="#b3b3b3"/>
<rect x="304.5" y="661" width="5" height="1.6" fill="#929292" stroke="#929292"/>
<rect x="313.2" y="654.3" width="5" height="4.3" fill="#e2e2e2" stroke="#e2e2e2"/>
<rect x="313.2" y="657.8" width="5" height="1.4" fill="#d4d4d4" stroke="#d4d4d4"/>
<rect x="313.2" y="661" width="5" height="1.6" fill="#9d9d9d" stroke="#9d9d9d"/>
<rect x="321.8" y="654.3" width="5" height="4.3" fill="#dddddd" stroke="#dddddd"/>
<rect x="321.8" y="657.8" width="5" height="1.4" fill="#878787" stroke="#878787"/>
<rect x="321.8" y="661" width="5" height="1.6" fill="#929292" stroke="#929292"/>
<rect x="331.4" y="654.3" width="5" height="4.3" fill="#cecece" stroke="#cecece"/>
<rect x="331.4" y="657.8" width="5" height="1.4" fill="#5b5b5b" stroke="#5b5b5b"/>
<rect x="331.4" y="661" width="5" height="1.6" fill="#454545" stroke="#454545"/>
<rect x="340" y="654.3" width="5" height="4.3" fill="#e2e2e2" stroke="#e2e2e2"/>
<rect x="340" y="657.8" width="5" height="1.4" fill="#bebebe" stroke="#bebebe"/>
<rect x="340" y="661" width="5" height="1.6" fill="#9d9d9d" stroke="#9d9d9d"/>
<rect x="344.7" y="654.3" width="5" height="4.3" fill="#e2e2e2" stroke="#e2e2e2"/>
<rect x="344.7" y="657.8" width="5" height="1.4" fill="#c9c9c9" stroke="#c9c9c9"/>
<rect x="344.7" y="661" width="5" height="1.6" fill="#9d9d9d" stroke="#9d9d9d"/>
<rect x="349.9" y="654.3" width="5" height="4.3" fill="#e2e2e2" stroke="#e2e2e2"/>
<rect x="349.9" y="657.8" width="5" height="1.4" fill="#c9c9c9" stroke="#c9c9c9"/>
<rect x="349.9" y="661" width="5" height="1.6" fill="#9d9d9d" stroke="#9d9d9d"/>
<rect x="358.6" y="654.3" width="5" height="4.3" fill="#cccccc" stroke="#cccccc"/>
<rect x="358.6" y="657.8" width="5" height="1.4" fill="#717171" stroke="#717171"/>
<rect x="358.6" y="661" width="5" height="1.6" fill="#3a3a3a" stroke="#3a3a3a"/>
<rect x="368.1" y="654.3" width="5" height="4.3" fill="#dadada" stroke="#dadada"/>
<rect x="368.1" y="657.8" width="5" height="1.4" fill="#b3b3b3" stroke="#b3b3b3"/>
<rect x="368.1" y="661" width="5" height="1.6" fill="#7c7c7c" stroke="#7c7c7c"/>
<rect x="374.2" y="654.3" width="5" height="4.3" fill="#e2e2e2" stroke="#e2e2e2"/>
<rect x="374.2" y="657.8" width="5" height="1.4" fill="#bebebe" stroke="#bebebe"/>
<rect x="374.2" y="661" width="5" height="1.6" fill="#9d9d9d" stroke="#9d9d9d"/>
<rect x="383.7" y="654.3" width="5" height="4.3" fill="#cecece" stroke="#cecece"/>
<rect x="383.7" y="657.8" width="5" height="1.4" fill="#7c7c7c" stroke="#7c7c7c"/>
<rect x="383.7" y="661" width="5" height="1.6" fill="#454545" stroke="#454545"/>
<rect x="391.5" y="654.3" width="5" height="4.3" fill="#f0f0f0" stroke="#f0f0f0"/>
<rect x="391.5" y="657.8" width="5" height="1.4" fill="#eaeaea" stroke="#eaeaea"/>
<rect x="391.5" y="661" width="5" height="1.6" fill="#dfdfdf" stroke="#dfdfdf"/>
<rect x="398.4" y="654.3" width="5" height="4.3" fill="#f0f0f0" stroke="#f0f0f0"/>
<rect x="398.4" y="657.8" width="5" height="1.4" fill="#eaeaea" stroke="#eaeaea"/>
<rect x="398.4" y="661" width="5" height="1.6" fill="#dfdfdf" stroke="#dfdfdf"/>
<rect x="406.2" y="654.3" width="5" height="4.3" fill="#eeeeee" stroke="#eeeeee"/>
<rect x="406.2" y="657.8" width="5" height="1.4" fill="#e3e3e3" stroke="#e3e3e3"/>
<rect x="406.2" y="661" width="5" height="1.6" fill="#d4d4d4" stroke="#d4d4d4"/>
<rect x="413.1" y="654.3" width="5" height="4.3" fill="#f0f0f0" stroke="#f0f0f0"/>
<rect x="413.1" y="657.8" width="5" height="1.4" fill="#eaeaea" stroke="#eaeaea"/>
<rect x="413.1" y="661" width="5" height="1.6" fill="#dfdfdf" stroke="#dfdfdf"/>
<rect x="420" y="654.3" width="5" height="4.3" fill="#eeeeee" stroke="#eeeeee"/>
<rect x="420" y="657.8" width="5" height="1.4" fill="#e3e3e3" stroke="#e3e3e3"/>
<rect x="420" y="661" width="5" height="1.6" fill="#d4d4d4" stroke="#d4d4d4"/>
<rect x="426.4" y="654.3" width="5" height="4.3" fill="#ebebeb" stroke="#ebebeb"/>
<rect x="426.4" y="657.8" width="5" height="1.4" fill="#dfdfdf" stroke="#dfdfdf"/>
<rect x="426.4" y="661" width="5" height="1.6" fill="#c9c9c9" stroke="#c9c9c9"/>
<rect x="433.8" y="654.3" width="5" height="4.3" fill="#e6e6e6" stroke="#e6e6e6"/>
<rect x="433.8" y="657.8" width="5" height="1.4" fill="#c9c9c9" stroke="#c9c9c9"/>
<rect x="433.8" y="661" width="5" height="1.6" fill="#b3b3b3" stroke="#b3b3b3"/>
<rect x="443.9" y="654.3" width="5" height="4.3" fill="#e4e4e4" stroke="#e4e4e4"/>
<rect x="443.9" y="657.8" width="5" height="1.4" fill="#a8a8a8" stroke="#a8a8a8"/>
<rect x="443.9" y="661" width="5" height="1.6" fill="#a8a8a8" stroke="#a8a8a8"/>
<rect x="451.3" y="654.3" width="5" height="4.3" fill="#e2e2e2" stroke="#e2e2e2"/>
<rect x="451.3" y="657.8" width="5" height="1.4" fill="#b3b3b3" stroke="#b3b3b3"/>
<rect x="451.3" y="661" width="5" height="1.6" fill="#9d9d9d" stroke="#9d9d9d"/>
<rect x="458.7" y="654.3" width="5" height="4.3" fill="#eeeeee" stroke="#eeeeee"/>
<rect x="458.7" y="657.8" width="5" height="1.4" fill="#dfdfdf" stroke="#dfdfdf"/>
<rect x="458.7" y="661" width="5" height="1.6" fill="#d4d4d4" stroke="#d4d4d4"/>
</g>
<line x1="283.8" y1="651.7" x2="283.8" y2="665.6" stroke="#222" stroke-width="1.1"/>
<line x1="365.2" y1="651.7" x2="365.2" y2="665.6" stroke="#222" stroke-width="1.1"/>
<line x1="442.6" y1="651.7" x2="442.6" y2="665.6" stroke="#222" stroke-width="1.1"/>
<rect x="259.8" y="651.7" width="206.6" height="13.9" fill="none" stroke="#3a3a3a" stroke-width="1.1"/>
<path d="M280.8 655.4 L279.6 659.8 L277.0 661.0 L277.6 663.0 L280.2 662.2 L281.4 659.6 Z" fill="#151515" stroke="#151515" stroke-width="0.9" stroke-opacity="0.45"/>
<text x="471.4" y="663.3" font-size="11" textLength="47.6" lengthAdjust="spacingAndGlyphs">60 mg/kg</text>
</svg>
</body></html>
